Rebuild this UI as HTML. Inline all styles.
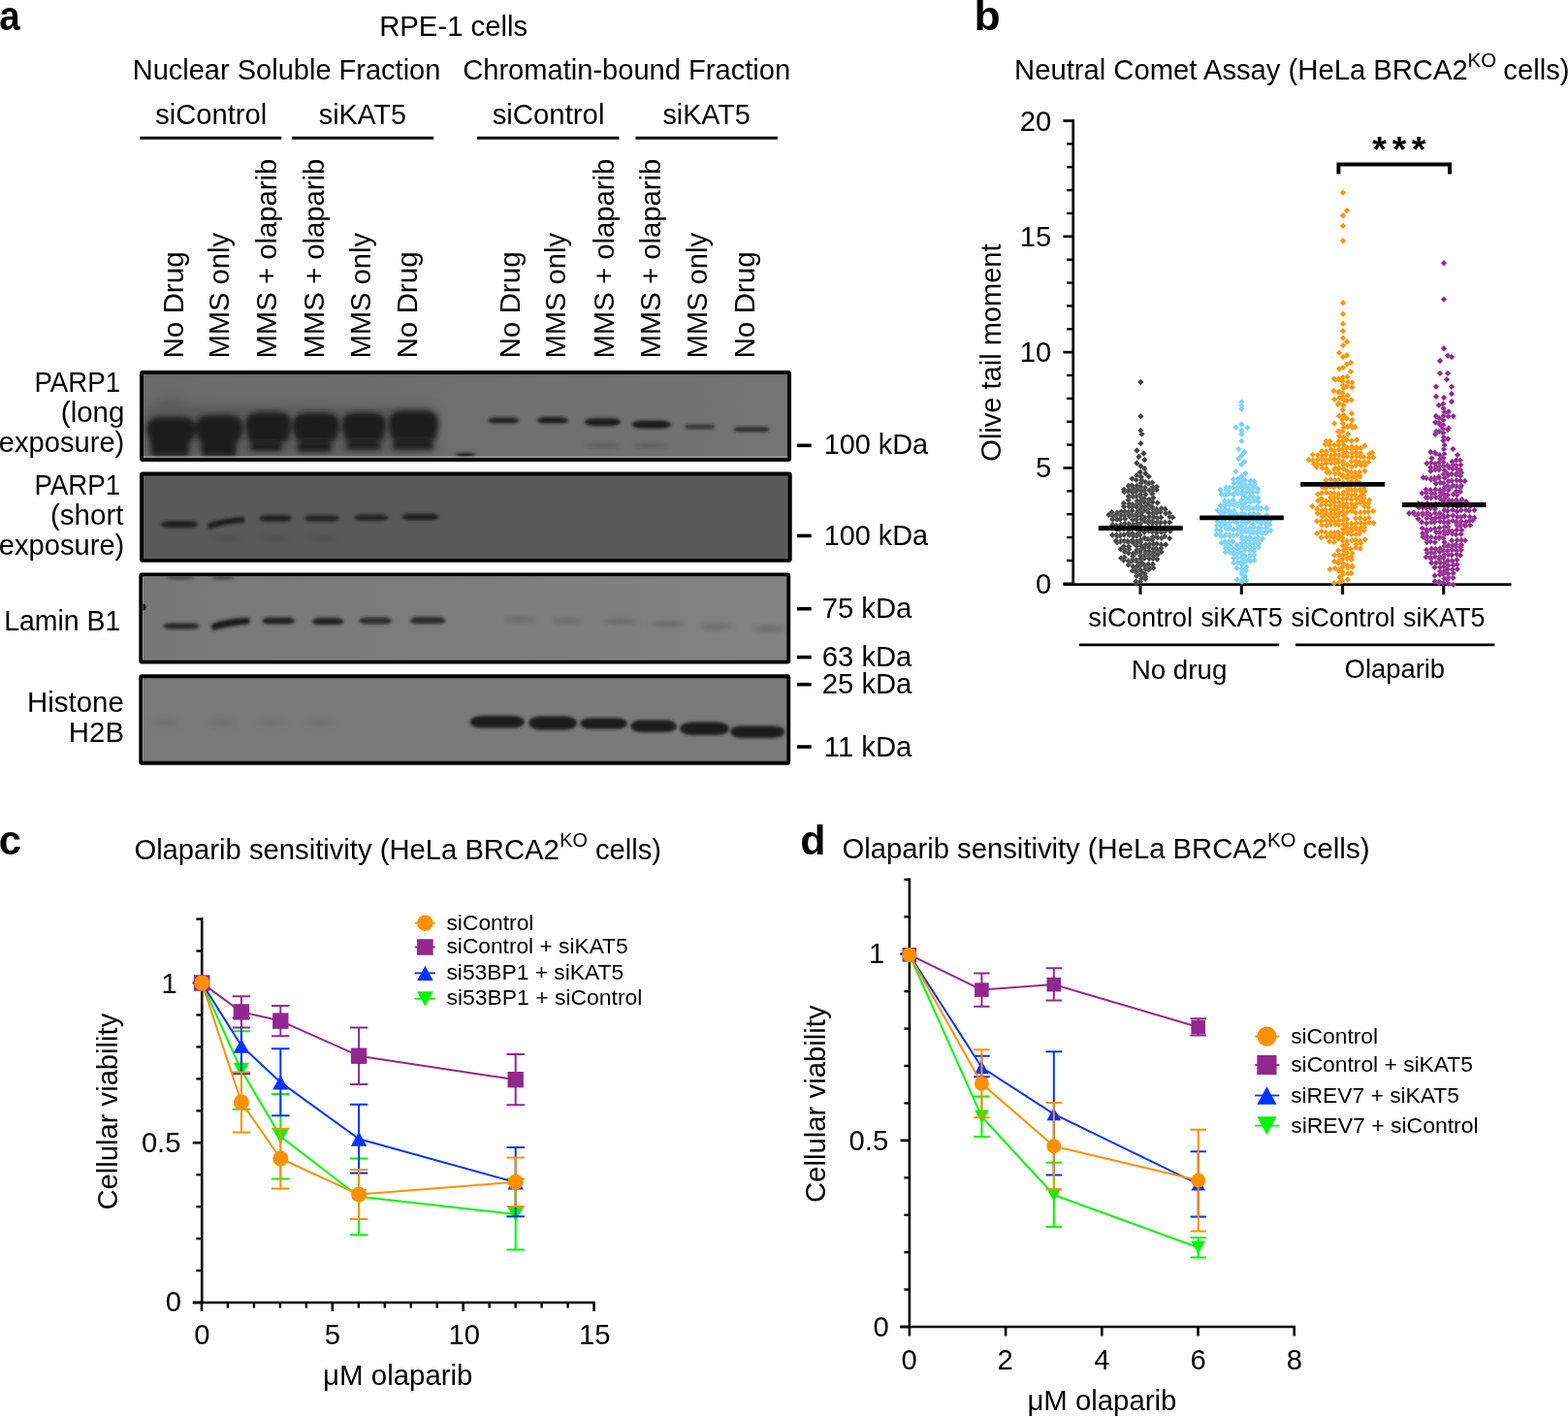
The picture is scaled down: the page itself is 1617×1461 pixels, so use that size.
<!DOCTYPE html>
<html><head><meta charset="utf-8"><title>Figure</title>
<style>html,body{margin:0;padding:0;background:#fff;overflow:hidden;}svg{display:block;}</style></head>
<body>
<svg width="1617" height="1461" viewBox="0 0 1617 1461" font-family="'Liberation Sans', Arial, Helvetica, sans-serif">
<rect width="1617" height="1461" fill="#fff"/>
<text x="-0.85" y="30.60" font-size="42" font-weight="bold" fill="#000" textLength="21.41" lengthAdjust="spacingAndGlyphs">a</text>
<text x="391.18" y="37.20" font-size="29.2" fill="#000" textLength="153.00" lengthAdjust="spacingAndGlyphs">RPE-1 cells</text>
<text x="136.71" y="81.80" font-size="29.2" fill="#000" textLength="317.68" lengthAdjust="spacingAndGlyphs">Nuclear Soluble Fraction</text>
<text x="477.25" y="81.80" font-size="29.2" fill="#000" textLength="337.80" lengthAdjust="spacingAndGlyphs">Chromatin-bound Fraction</text>
<text x="160.20" y="127.70" font-size="29.2" fill="#000" textLength="115.02" lengthAdjust="spacingAndGlyphs">siControl</text>
<text x="328.81" y="127.70" font-size="29.2" fill="#000" textLength="90.28" lengthAdjust="spacingAndGlyphs">siKAT5</text>
<text x="507.69" y="127.70" font-size="29.2" fill="#000" textLength="115.74" lengthAdjust="spacingAndGlyphs">siControl</text>
<text x="683.51" y="127.70" font-size="29.2" fill="#000" textLength="90.28" lengthAdjust="spacingAndGlyphs">siKAT5</text>
<line x1="144.30" y1="142.20" x2="290.20" y2="142.20" stroke="#000" stroke-width="3" stroke-linecap="butt"/>
<line x1="301.00" y1="142.20" x2="447.10" y2="142.20" stroke="#000" stroke-width="3" stroke-linecap="butt"/>
<line x1="492.00" y1="142.20" x2="638.40" y2="142.20" stroke="#000" stroke-width="3" stroke-linecap="butt"/>
<line x1="655.50" y1="142.20" x2="801.80" y2="142.20" stroke="#000" stroke-width="3" stroke-linecap="butt"/>
<text x="189.00" y="369.54" font-size="29.2" textLength="110.13" lengthAdjust="spacingAndGlyphs" transform="rotate(-90 189.00 369.54)">No Drug</text>
<text x="236.30" y="369.50" font-size="29.2" textLength="129.59" lengthAdjust="spacingAndGlyphs" transform="rotate(-90 236.30 369.50)">MMS only</text>
<text x="285.40" y="369.52" font-size="29.2" textLength="205.92" lengthAdjust="spacingAndGlyphs" transform="rotate(-90 285.40 369.52)">MMS + olaparib</text>
<text x="334.20" y="369.52" font-size="29.2" textLength="205.92" lengthAdjust="spacingAndGlyphs" transform="rotate(-90 334.20 369.52)">MMS + olaparib</text>
<text x="382.00" y="369.50" font-size="29.2" textLength="129.59" lengthAdjust="spacingAndGlyphs" transform="rotate(-90 382.00 369.50)">MMS only</text>
<text x="430.50" y="369.54" font-size="29.2" textLength="110.13" lengthAdjust="spacingAndGlyphs" transform="rotate(-90 430.50 369.54)">No Drug</text>
<text x="535.80" y="369.54" font-size="29.2" textLength="110.13" lengthAdjust="spacingAndGlyphs" transform="rotate(-90 535.80 369.54)">No Drug</text>
<text x="582.90" y="369.50" font-size="29.2" textLength="129.59" lengthAdjust="spacingAndGlyphs" transform="rotate(-90 582.90 369.50)">MMS only</text>
<text x="632.70" y="369.52" font-size="29.2" textLength="205.92" lengthAdjust="spacingAndGlyphs" transform="rotate(-90 632.70 369.52)">MMS + olaparib</text>
<text x="680.90" y="369.52" font-size="29.2" textLength="205.92" lengthAdjust="spacingAndGlyphs" transform="rotate(-90 680.90 369.52)">MMS + olaparib</text>
<text x="729.10" y="369.50" font-size="29.2" textLength="129.59" lengthAdjust="spacingAndGlyphs" transform="rotate(-90 729.10 369.50)">MMS only</text>
<text x="777.70" y="369.54" font-size="29.2" textLength="110.13" lengthAdjust="spacingAndGlyphs" transform="rotate(-90 777.70 369.54)">No Drug</text>
<text x="35.41" y="403.70" font-size="29.2" fill="#000" textLength="88.81" lengthAdjust="spacingAndGlyphs">PARP1</text>
<text x="62.86" y="434.70" font-size="29.2" fill="#000" textLength="65.52" lengthAdjust="spacingAndGlyphs">(long</text>
<text x="-1.24" y="465.80" font-size="29.2" fill="#000" textLength="129.54" lengthAdjust="spacingAndGlyphs">exposure)</text>
<text x="35.41" y="509.70" font-size="29.2" fill="#000" textLength="88.81" lengthAdjust="spacingAndGlyphs">PARP1</text>
<text x="52.06" y="541.00" font-size="29.2" fill="#000" textLength="75.40" lengthAdjust="spacingAndGlyphs">(short</text>
<text x="-1.24" y="571.90" font-size="29.2" fill="#000" textLength="129.54" lengthAdjust="spacingAndGlyphs">exposure)</text>
<text x="4.15" y="650.10" font-size="29.2" fill="#000" textLength="120.16" lengthAdjust="spacingAndGlyphs">Lamin B1</text>
<text x="28.07" y="733.70" font-size="29.2" fill="#000" textLength="99.70" lengthAdjust="spacingAndGlyphs">Histone</text>
<text x="70.88" y="765.00" font-size="29.2" fill="#000" textLength="57.18" lengthAdjust="spacingAndGlyphs">H2B</text>
<line x1="821.90" y1="459.30" x2="836.70" y2="459.30" stroke="#000" stroke-width="3.6" stroke-linecap="butt"/>
<text x="849.64" y="468.40" font-size="29.2" fill="#000" textLength="107.43" lengthAdjust="spacingAndGlyphs">100 kDa</text>
<line x1="821.90" y1="552.40" x2="836.70" y2="552.40" stroke="#000" stroke-width="3.6" stroke-linecap="butt"/>
<text x="849.64" y="561.90" font-size="29.2" fill="#000" textLength="107.43" lengthAdjust="spacingAndGlyphs">100 kDa</text>
<line x1="821.90" y1="627.70" x2="836.70" y2="627.70" stroke="#000" stroke-width="3.6" stroke-linecap="butt"/>
<text x="847.77" y="636.50" font-size="29.2" fill="#000" textLength="92.56" lengthAdjust="spacingAndGlyphs">75 kDa</text>
<line x1="821.90" y1="677.60" x2="836.70" y2="677.60" stroke="#000" stroke-width="3.6" stroke-linecap="butt"/>
<text x="847.84" y="686.50" font-size="29.2" fill="#000" textLength="92.49" lengthAdjust="spacingAndGlyphs">63 kDa</text>
<line x1="821.90" y1="705.70" x2="836.70" y2="705.70" stroke="#000" stroke-width="3.6" stroke-linecap="butt"/>
<text x="847.84" y="714.60" font-size="29.2" fill="#000" textLength="92.49" lengthAdjust="spacingAndGlyphs">25 kDa</text>
<line x1="821.90" y1="770.00" x2="836.70" y2="770.00" stroke="#000" stroke-width="3.6" stroke-linecap="butt"/>
<text x="849.81" y="779.60" font-size="29.2" fill="#000" textLength="90.55" lengthAdjust="spacingAndGlyphs">11 kDa</text>
<defs><filter id="b1" x="-20%" y="-50%" width="140%" height="200%"><feGaussianBlur stdDeviation="1.6"/></filter><filter id="b2" x="-20%" y="-80%" width="140%" height="260%"><feGaussianBlur stdDeviation="2.4"/></filter><filter id="b3" x="-30%" y="-100%" width="160%" height="300%"><feGaussianBlur stdDeviation="4"/></filter><linearGradient id="g1" x1="0" y1="0" x2="1" y2="0"><stop offset="0" stop-color="#6a6a6a"/><stop offset="0.45" stop-color="#6e6e6e"/><stop offset="1" stop-color="#747474"/></linearGradient><linearGradient id="g3" x1="0" y1="0" x2="1" y2="0"><stop offset="0" stop-color="#777777"/><stop offset="0.5" stop-color="#7d7d7d"/><stop offset="1" stop-color="#828282"/></linearGradient><filter id="b4" x="-20%" y="-50%" width="140%" height="200%"><feGaussianBlur stdDeviation="2.5"/></filter><clipPath id="cp1"><rect x="148" y="386" width="664" height="86"/></clipPath><clipPath id="cp2"><rect x="148" y="490" width="665" height="86"/></clipPath><clipPath id="cp3"><rect x="147.5" y="594.5" width="664" height="86"/></clipPath><clipPath id="cp4"><rect x="147.5" y="699" width="664" height="86"/></clipPath></defs>
<g clip-path="url(#cp1)">
<rect x="148.00" y="386.00" width="664.00" height="86.00" fill="url(#g1)"/>
<g filter="url(#b3)" opacity="0.5" fill="#4a4a4a">
<rect x="150" y="418" width="302" height="50" rx="10"/>
<ellipse cx="176" cy="416" rx="16" ry="7" opacity="0.6"/>
</g>
<g filter="url(#b4)" fill="#1c1c1c">
<path d="M155.7 455.0 C151.7 447.0 150.5 444.9 151.7 438.9 C152.7 431.9 159.7 429.9 165.7 429.9 L187.6 429.9 C193.6 429.9 200.6 431.9 201.6 438.9 C202.8 444.9 201.6 447.0 197.6 455.0 Z"/>
<rect x="155.4" y="449.0" width="39.6" height="21.5" rx="4"/>
<path d="M206.2 455.0 C202.2 447.0 201.0 442.9 202.2 436.9 C203.2 429.9 210.2 427.9 216.2 427.9 L236.1 427.9 C242.1 427.9 249.1 429.9 250.1 436.9 C251.3 442.9 250.1 447.0 246.1 455.0 Z"/>
<rect x="207.8" y="449.0" width="35.7" height="21.5" rx="4"/>
<path d="M257.6 455.8 C253.6 447.8 252.4 440.0 253.6 434.0 C254.6 427.0 261.6 425.0 267.6 425.0 L285.6 425.0 C291.6 425.0 298.6 427.0 299.6 434.0 C300.8 440.0 299.6 447.8 295.6 455.8 Z"/>
<rect x="257.8" y="457.6" width="33.6" height="7.3" rx="4"/>
<rect x="259.8" y="453.8" width="29.6" height="4.5" fill="#262626"/>
<path d="M306.5 454.5 C302.5 446.5 301.3 440.8 302.5 434.8 C303.5 427.8 310.5 425.8 316.5 425.8 L335.4 425.8 C341.4 425.8 348.4 427.8 349.4 434.8 C350.6 440.8 349.4 446.5 345.4 454.5 Z"/>
<rect x="306.8" y="456.3" width="35.2" height="9.8" rx="4"/>
<rect x="308.8" y="452.5" width="31.2" height="4.5" fill="#262626"/>
<path d="M357.2 454.5 C353.2 446.5 352.0 440.2 353.2 434.2 C354.2 427.2 361.2 425.2 367.2 425.2 L383.6 425.2 C389.6 425.2 396.6 427.2 397.6 434.2 C398.8 440.2 397.6 446.5 393.6 454.5 Z"/>
<rect x="357.0" y="456.3" width="36.0" height="7.2" rx="4"/>
<rect x="359.0" y="452.5" width="32.0" height="4.5" fill="#262626"/>
<path d="M405.4 454.0 C401.4 446.0 400.2 438.4 401.4 432.4 C402.4 425.4 409.4 423.4 415.4 423.4 L437.4 423.4 C443.4 423.4 450.4 425.4 451.4 432.4 C452.6 438.4 451.4 446.0 447.4 454.0 Z"/>
<rect x="405.0" y="455.8" width="42.0" height="7.7" rx="4"/>
<rect x="407.0" y="452.0" width="38.0" height="4.5" fill="#262626"/>
</g>
<g filter="url(#b1)" fill="#1e1e1e">
<rect x="503.5" y="430.4" width="31.5" height="6.0" rx="7.2" ry="3.0" opacity="0.95"/>
<rect x="554.3" y="430.1" width="31.6" height="6.5" rx="7.8" ry="3.2" opacity="1"/>
<rect x="603.0" y="431.2" width="37.0" height="8.0" rx="9.6" ry="4.0" opacity="1"/>
<rect x="651.7" y="433.6" width="40.3" height="8.5" rx="10.2" ry="4.2" opacity="1"/>
<rect x="705.8" y="437.8" width="31.6" height="4.5" rx="5.4" ry="2.2" opacity="0.8"/>
<rect x="756.7" y="440.2" width="37.0" height="5.0" rx="6.0" ry="2.5" opacity="0.85"/>
</g>
<g filter="url(#b2)" fill="#3a3a3a" opacity="0.4">
<ellipse cx="622.0" cy="459.5" rx="18.0" ry="2.5"/>
<ellipse cx="671.0" cy="459.5" rx="19.0" ry="2.5"/>
</g>
<ellipse cx="480" cy="469" rx="10" ry="2" fill="#1a1a1a" filter="url(#b1)"/>
<line x1="148.00" y1="471.20" x2="812.00" y2="471.20" stroke="#bdbdbd" stroke-width="1" stroke-linecap="butt"/>
</g>
<rect x="146" y="384" width="668" height="90" fill="none" stroke="#000" stroke-width="4" rx="1"/>
<g clip-path="url(#cp2)">
<rect x="148.00" y="490.00" width="665.00" height="86.00" fill="#595959"/>
<g filter="url(#b1)" fill="#1c1c1c">
<rect x="166" y="537.3" width="37.5" height="6.8" rx="8" ry="3.4"/>
<path d="M214.6 539.8 Q233 533.5 252 533 L252 538.8 Q233 540 214.6 545.5 Z"/>
<rect x="267.2" y="531.2" width="33.6" height="6.4" rx="7" ry="3.2" opacity="0.95"/>
<rect x="314.5" y="531.2" width="35.8" height="6.4" rx="7" ry="3.2" opacity="0.9"/>
<rect x="365.0" y="530.5" width="35.7" height="6.4" rx="7" ry="3.2" opacity="0.9"/>
<rect x="414.4" y="529.8" width="37.8" height="6.4" rx="7" ry="3.2" opacity="1"/>
</g>
<g filter="url(#b2)" fill="#3a3a3a" opacity="0.25">
<ellipse cx="233" cy="555" rx="14" ry="2.5"/>
<ellipse cx="284" cy="555" rx="14" ry="2.5"/>
<ellipse cx="333" cy="555" rx="14" ry="2.5"/>
</g>
<line x1="148.00" y1="575.60" x2="813.00" y2="575.60" stroke="#8a8a8a" stroke-width="1" stroke-linecap="butt"/>
</g>
<rect x="146" y="488.4" width="668.7" height="89.4" fill="none" stroke="#000" stroke-width="4" rx="1"/>
<g clip-path="url(#cp3)">
<rect x="147.50" y="594.50" width="664.00" height="86.00" fill="url(#g3)"/>
<g filter="url(#b1)" fill="#1e1e1e">
<rect x="168.4" y="642.4" width="36.8" height="6.4" rx="8" ry="3.2" opacity="0.9"/>
<path d="M219 643 Q236 637 256.5 636.8 Q259 640 256.5 643.5 Q238 645 219 650 Q217 646.5 219 643 Z"/>
<rect x="270.4" y="636.4" width="33.6" height="7.2" rx="8" ry="3.6" opacity="0.95"/>
<rect x="321.9" y="637.1" width="32.6" height="7.2" rx="8" ry="3.6" opacity="0.95"/>
<rect x="370.2" y="636.4" width="33.7" height="7.2" rx="8" ry="3.6" opacity="0.85"/>
<rect x="422.8" y="636.1" width="36.8" height="7.2" rx="8" ry="3.6" opacity="0.85"/>
</g>
<g filter="url(#b2)" fill="#505050" opacity="0.5">
<ellipse cx="536.0" cy="639.0" rx="16.2" ry="2.6"/>
<ellipse cx="584.2" cy="640.0" rx="15.7" ry="2.6"/>
<ellipse cx="639.9" cy="641.0" rx="18.4" ry="2.6"/>
<ellipse cx="688.0" cy="643.0" rx="19.0" ry="2.6"/>
<ellipse cx="738.9" cy="646.0" rx="16.9" ry="2.6"/>
<ellipse cx="793.6" cy="648.0" rx="16.2" ry="2.6"/>
</g>
<ellipse cx="148" cy="626" rx="2.5" ry="3.5" fill="#111"/>
<g filter="url(#b1)" fill="#333" opacity="0.7">
<ellipse cx="186" cy="595.5" rx="15" ry="2"/>
<ellipse cx="230" cy="595.5" rx="12" ry="2"/>
</g>
<line x1="147.50" y1="680.40" x2="812.00" y2="680.40" stroke="#939393" stroke-width="1" stroke-linecap="butt"/>
</g>
<rect x="145.3" y="592.6" width="667.9" height="90" fill="none" stroke="#000" stroke-width="4" rx="1"/>
<g clip-path="url(#cp4)">
<rect x="147.50" y="699.00" width="664.00" height="86.00" fill="#7a7a7a"/>
<g filter="url(#b1)" fill="#1c1c1c">
<rect x="484.7" y="738.1" width="56.1" height="12.5" rx="11.2" ry="6.2"/>
<rect x="545.3" y="738.5" width="49.7" height="14.0" rx="12.6" ry="7.0"/>
<rect x="598.3" y="740.2" width="48.6" height="11.5" rx="10.3" ry="5.8"/>
<rect x="650.2" y="742.5" width="47.6" height="12.5" rx="11.2" ry="6.2"/>
<rect x="701.1" y="744.6" width="50.8" height="13.5" rx="12.2" ry="6.8"/>
<rect x="753.0" y="748.4" width="56.2" height="12.5" rx="11.2" ry="6.2"/>
</g>
<g filter="url(#b3)" fill="#5a5a5a" opacity="0.35">
<ellipse cx="170" cy="745" rx="14" ry="3"/>
<ellipse cx="230" cy="745" rx="14" ry="3"/>
<ellipse cx="280" cy="745" rx="14" ry="3"/>
<ellipse cx="330" cy="745" rx="14" ry="3"/>
</g>
</g>
<rect x="145.3" y="697.3" width="667.9" height="89.4" fill="none" stroke="#000" stroke-width="4" rx="1"/>
<text x="1004.60" y="30.70" font-size="42" font-weight="bold" fill="#000" textLength="27.22" lengthAdjust="spacingAndGlyphs">b</text>
<text x="1046.09" y="81.50" font-size="29.2" fill="#000" textLength="467.62" lengthAdjust="spacingAndGlyphs">Neutral Comet Assay (HeLa BRCA2</text>
<text x="1513.61" y="69.40" font-size="19.5" fill="#000" textLength="29.56" lengthAdjust="spacingAndGlyphs">KO</text>
<text x="1550.36" y="81.60" font-size="29.2" fill="#000">cells)</text>
<line x1="1106.70" y1="123.00" x2="1106.70" y2="604.10" stroke="#000" stroke-width="2.7" stroke-linecap="butt"/>
<line x1="1096.40" y1="601.80" x2="1106.70" y2="601.80" stroke="#000" stroke-width="2.7" stroke-linecap="butt"/>
<line x1="1100.00" y1="577.93" x2="1106.70" y2="577.93" stroke="#000" stroke-width="2.4" stroke-linecap="butt"/>
<line x1="1100.00" y1="554.07" x2="1106.70" y2="554.07" stroke="#000" stroke-width="2.4" stroke-linecap="butt"/>
<line x1="1100.00" y1="530.20" x2="1106.70" y2="530.20" stroke="#000" stroke-width="2.4" stroke-linecap="butt"/>
<line x1="1100.00" y1="506.34" x2="1106.70" y2="506.34" stroke="#000" stroke-width="2.4" stroke-linecap="butt"/>
<line x1="1096.40" y1="482.47" x2="1106.70" y2="482.47" stroke="#000" stroke-width="2.7" stroke-linecap="butt"/>
<line x1="1100.00" y1="458.61" x2="1106.70" y2="458.61" stroke="#000" stroke-width="2.4" stroke-linecap="butt"/>
<line x1="1100.00" y1="434.75" x2="1106.70" y2="434.75" stroke="#000" stroke-width="2.4" stroke-linecap="butt"/>
<line x1="1100.00" y1="410.88" x2="1106.70" y2="410.88" stroke="#000" stroke-width="2.4" stroke-linecap="butt"/>
<line x1="1100.00" y1="387.01" x2="1106.70" y2="387.01" stroke="#000" stroke-width="2.4" stroke-linecap="butt"/>
<line x1="1096.40" y1="363.15" x2="1106.70" y2="363.15" stroke="#000" stroke-width="2.7" stroke-linecap="butt"/>
<line x1="1100.00" y1="339.28" x2="1106.70" y2="339.28" stroke="#000" stroke-width="2.4" stroke-linecap="butt"/>
<line x1="1100.00" y1="315.42" x2="1106.70" y2="315.42" stroke="#000" stroke-width="2.4" stroke-linecap="butt"/>
<line x1="1100.00" y1="291.55" x2="1106.70" y2="291.55" stroke="#000" stroke-width="2.4" stroke-linecap="butt"/>
<line x1="1100.00" y1="267.69" x2="1106.70" y2="267.69" stroke="#000" stroke-width="2.4" stroke-linecap="butt"/>
<line x1="1096.40" y1="243.82" x2="1106.70" y2="243.82" stroke="#000" stroke-width="2.7" stroke-linecap="butt"/>
<line x1="1100.00" y1="219.96" x2="1106.70" y2="219.96" stroke="#000" stroke-width="2.4" stroke-linecap="butt"/>
<line x1="1100.00" y1="196.09" x2="1106.70" y2="196.09" stroke="#000" stroke-width="2.4" stroke-linecap="butt"/>
<line x1="1100.00" y1="172.23" x2="1106.70" y2="172.23" stroke="#000" stroke-width="2.4" stroke-linecap="butt"/>
<line x1="1100.00" y1="148.37" x2="1106.70" y2="148.37" stroke="#000" stroke-width="2.4" stroke-linecap="butt"/>
<line x1="1096.40" y1="124.50" x2="1106.70" y2="124.50" stroke="#000" stroke-width="2.7" stroke-linecap="butt"/>
<text x="1051.68" y="134.50" font-size="29.2" fill="#000">20</text>
<text x="1051.76" y="253.82" font-size="29.2" fill="#000">15</text>
<text x="1051.68" y="373.15" font-size="29.2" fill="#000">10</text>
<text x="1067.96" y="492.47" font-size="29.2" fill="#000">5</text>
<text x="1067.89" y="611.80" font-size="29.2" fill="#000">0</text>
<text x="1031.80" y="475.68" font-size="29.2" textLength="224.19" lengthAdjust="spacingAndGlyphs" transform="rotate(-90 1031.80 475.68)">Olive tail moment</text>
<line x1="1096.60" y1="602.70" x2="1558.60" y2="602.70" stroke="#000" stroke-width="2.8" stroke-linecap="butt"/>
<line x1="1176.00" y1="602.00" x2="1176.00" y2="612.90" stroke="#000" stroke-width="3" stroke-linecap="butt"/>
<line x1="1280.30" y1="602.00" x2="1280.30" y2="612.90" stroke="#000" stroke-width="3" stroke-linecap="butt"/>
<line x1="1384.60" y1="602.00" x2="1384.60" y2="612.90" stroke="#000" stroke-width="3" stroke-linecap="butt"/>
<line x1="1488.70" y1="602.00" x2="1488.70" y2="612.90" stroke="#000" stroke-width="3" stroke-linecap="butt"/>
<text x="1122.35" y="646.30" font-size="27.6" fill="#000" textLength="107.75" lengthAdjust="spacingAndGlyphs">siControl</text>
<text x="1238.16" y="646.30" font-size="27.6" fill="#000" textLength="84.55" lengthAdjust="spacingAndGlyphs">siKAT5</text>
<text x="1331.55" y="646.30" font-size="27.6" fill="#000" textLength="107.34" lengthAdjust="spacingAndGlyphs">siControl</text>
<text x="1446.96" y="646.30" font-size="27.6" fill="#000" textLength="84.55" lengthAdjust="spacingAndGlyphs">siKAT5</text>
<line x1="1112.90" y1="664.80" x2="1318.90" y2="664.80" stroke="#000" stroke-width="2.7" stroke-linecap="butt"/>
<line x1="1336.00" y1="664.80" x2="1541.40" y2="664.80" stroke="#000" stroke-width="2.7" stroke-linecap="butt"/>
<text x="1166.71" y="699.50" font-size="27.6" fill="#000" textLength="98.63" lengthAdjust="spacingAndGlyphs">No drug</text>
<text x="1386.60" y="699.10" font-size="27.6" fill="#000" textLength="103.49" lengthAdjust="spacingAndGlyphs">Olaparib</text>
<text x="1415.19" y="166.51" font-size="37.5" font-weight="bold">*</text>
<text x="1435.79" y="166.51" font-size="37.5" font-weight="bold">*</text>
<text x="1455.79" y="166.51" font-size="37.5" font-weight="bold">*</text>
<path d="M1380.4 179.6 V169.6 H1495 V179.6" fill="none" stroke="#000" stroke-width="4"/>
<path d="M1176.4 390.8l3.2 3.2l-3.2 3.2l-3.2-3.2zM1176.4 426.1l3.2 3.2l-3.2 3.2l-3.2-3.2zM1176.4 440.8l3.2 3.2l-3.2 3.2l-3.2-3.2zM1177.4 444.3l3.2 3.2l-3.2 3.2l-3.2-3.2zM1176.4 454.1l3.2 3.2l-3.2 3.2l-3.2-3.2zM1172.4 461.3l3.2 3.2l-3.2 3.2l-3.2-3.2zM1179.4 464.3l3.2 3.2l-3.2 3.2l-3.2-3.2zM1174.4 467.8l3.2 3.2l-3.2 3.2l-3.2-3.2zM1180.4 470.8l3.2 3.2l-3.2 3.2l-3.2-3.2zM1172.4 474.3l3.2 3.2l-3.2 3.2l-3.2-3.2zM1176.4 477.3l3.2 3.2l-3.2 3.2l-3.2-3.2zM1180.4 479.8l3.2 3.2l-3.2 3.2l-3.2-3.2zM1175.7 483.8l3.2 3.2l-3.2 3.2l-3.2-3.2zM1172.0 487.0l3.2 3.2l-3.2 3.2l-3.2-3.2zM1181.3 485.1l3.2 3.2l-3.2 3.2l-3.2-3.2zM1176.8 488.6l3.2 3.2l-3.2 3.2l-3.2-3.2zM1171.4 491.2l3.2 3.2l-3.2 3.2l-3.2-3.2zM1167.5 490.4l3.2 3.2l-3.2 3.2l-3.2-3.2zM1184.7 488.2l3.2 3.2l-3.2 3.2l-3.2-3.2zM1177.2 491.7l3.2 3.2l-3.2 3.2l-3.2-3.2zM1181.4 494.0l3.2 3.2l-3.2 3.2l-3.2-3.2zM1171.8 491.7l3.2 3.2l-3.2 3.2l-3.2-3.2zM1184.8 494.7l3.2 3.2l-3.2 3.2l-3.2-3.2zM1176.6 494.9l3.2 3.2l-3.2 3.2l-3.2-3.2zM1172.4 497.7l3.2 3.2l-3.2 3.2l-3.2-3.2zM1167.4 497.5l3.2 3.2l-3.2 3.2l-3.2-3.2zM1184.6 495.4l3.2 3.2l-3.2 3.2l-3.2-3.2zM1163.8 497.8l3.2 3.2l-3.2 3.2l-3.2-3.2zM1188.2 494.6l3.2 3.2l-3.2 3.2l-3.2-3.2zM1176.4 498.6l3.2 3.2l-3.2 3.2l-3.2-3.2zM1172.8 501.3l3.2 3.2l-3.2 3.2l-3.2-3.2zM1180.7 499.7l3.2 3.2l-3.2 3.2l-3.2-3.2zM1168.8 500.7l3.2 3.2l-3.2 3.2l-3.2-3.2zM1164.2 501.9l3.2 3.2l-3.2 3.2l-3.2-3.2zM1188.9 499.1l3.2 3.2l-3.2 3.2l-3.2-3.2zM1159.1 501.5l3.2 3.2l-3.2 3.2l-3.2-3.2zM1192.9 498.8l3.2 3.2l-3.2 3.2l-3.2-3.2zM1176.9 502.8l3.2 3.2l-3.2 3.2l-3.2-3.2zM1171.5 503.9l3.2 3.2l-3.2 3.2l-3.2-3.2zM1179.8 502.7l3.2 3.2l-3.2 3.2l-3.2-3.2zM1167.9 504.5l3.2 3.2l-3.2 3.2l-3.2-3.2zM1185.3 502.3l3.2 3.2l-3.2 3.2l-3.2-3.2zM1163.4 503.6l3.2 3.2l-3.2 3.2l-3.2-3.2zM1188.6 502.5l3.2 3.2l-3.2 3.2l-3.2-3.2zM1159.3 503.8l3.2 3.2l-3.2 3.2l-3.2-3.2zM1192.8 501.7l3.2 3.2l-3.2 3.2l-3.2-3.2zM1175.9 506.9l3.2 3.2l-3.2 3.2l-3.2-3.2zM1172.1 508.2l3.2 3.2l-3.2 3.2l-3.2-3.2zM1181.5 506.7l3.2 3.2l-3.2 3.2l-3.2-3.2zM1168.0 508.2l3.2 3.2l-3.2 3.2l-3.2-3.2zM1163.7 508.6l3.2 3.2l-3.2 3.2l-3.2-3.2zM1188.2 506.0l3.2 3.2l-3.2 3.2l-3.2-3.2zM1176.2 508.9l3.2 3.2l-3.2 3.2l-3.2-3.2zM1179.8 511.0l3.2 3.2l-3.2 3.2l-3.2-3.2zM1171.6 508.6l3.2 3.2l-3.2 3.2l-3.2-3.2zM1184.8 511.9l3.2 3.2l-3.2 3.2l-3.2-3.2zM1168.3 508.7l3.2 3.2l-3.2 3.2l-3.2-3.2zM1189.3 510.0l3.2 3.2l-3.2 3.2l-3.2-3.2zM1164.5 508.7l3.2 3.2l-3.2 3.2l-3.2-3.2zM1176.5 512.9l3.2 3.2l-3.2 3.2l-3.2-3.2zM1179.9 514.3l3.2 3.2l-3.2 3.2l-3.2-3.2zM1172.8 513.4l3.2 3.2l-3.2 3.2l-3.2-3.2zM1184.0 515.2l3.2 3.2l-3.2 3.2l-3.2-3.2zM1188.6 514.5l3.2 3.2l-3.2 3.2l-3.2-3.2zM1163.5 512.4l3.2 3.2l-3.2 3.2l-3.2-3.2zM1193.7 515.2l3.2 3.2l-3.2 3.2l-3.2-3.2zM1175.6 515.8l3.2 3.2l-3.2 3.2l-3.2-3.2zM1181.2 519.3l3.2 3.2l-3.2 3.2l-3.2-3.2zM1172.0 516.8l3.2 3.2l-3.2 3.2l-3.2-3.2zM1184.4 517.4l3.2 3.2l-3.2 3.2l-3.2-3.2zM1167.9 517.1l3.2 3.2l-3.2 3.2l-3.2-3.2zM1188.1 519.3l3.2 3.2l-3.2 3.2l-3.2-3.2zM1164.5 516.3l3.2 3.2l-3.2 3.2l-3.2-3.2zM1158.9 515.8l3.2 3.2l-3.2 3.2l-3.2-3.2zM1177.2 519.0l3.2 3.2l-3.2 3.2l-3.2-3.2zM1180.7 522.0l3.2 3.2l-3.2 3.2l-3.2-3.2zM1171.9 519.3l3.2 3.2l-3.2 3.2l-3.2-3.2zM1167.7 519.4l3.2 3.2l-3.2 3.2l-3.2-3.2zM1188.7 520.7l3.2 3.2l-3.2 3.2l-3.2-3.2zM1164.3 519.2l3.2 3.2l-3.2 3.2l-3.2-3.2zM1193.1 522.5l3.2 3.2l-3.2 3.2l-3.2-3.2zM1159.1 519.4l3.2 3.2l-3.2 3.2l-3.2-3.2zM1197.9 521.2l3.2 3.2l-3.2 3.2l-3.2-3.2zM1176.1 521.8l3.2 3.2l-3.2 3.2l-3.2-3.2zM1172.9 524.8l3.2 3.2l-3.2 3.2l-3.2-3.2zM1180.7 522.8l3.2 3.2l-3.2 3.2l-3.2-3.2zM1167.5 523.4l3.2 3.2l-3.2 3.2l-3.2-3.2zM1184.0 521.8l3.2 3.2l-3.2 3.2l-3.2-3.2zM1163.8 524.7l3.2 3.2l-3.2 3.2l-3.2-3.2zM1189.5 522.9l3.2 3.2l-3.2 3.2l-3.2-3.2zM1160.1 524.5l3.2 3.2l-3.2 3.2l-3.2-3.2zM1192.5 521.8l3.2 3.2l-3.2 3.2l-3.2-3.2zM1156.1 524.6l3.2 3.2l-3.2 3.2l-3.2-3.2zM1197.1 521.3l3.2 3.2l-3.2 3.2l-3.2-3.2zM1151.8 525.5l3.2 3.2l-3.2 3.2l-3.2-3.2zM1201.5 521.8l3.2 3.2l-3.2 3.2l-3.2-3.2zM1146.6 525.0l3.2 3.2l-3.2 3.2l-3.2-3.2zM1177.0 525.5l3.2 3.2l-3.2 3.2l-3.2-3.2zM1171.8 527.0l3.2 3.2l-3.2 3.2l-3.2-3.2zM1167.2 527.4l3.2 3.2l-3.2 3.2l-3.2-3.2zM1184.4 525.3l3.2 3.2l-3.2 3.2l-3.2-3.2zM1164.0 527.1l3.2 3.2l-3.2 3.2l-3.2-3.2zM1189.0 526.1l3.2 3.2l-3.2 3.2l-3.2-3.2zM1160.0 527.6l3.2 3.2l-3.2 3.2l-3.2-3.2zM1192.7 525.4l3.2 3.2l-3.2 3.2l-3.2-3.2zM1156.2 528.1l3.2 3.2l-3.2 3.2l-3.2-3.2zM1196.6 524.6l3.2 3.2l-3.2 3.2l-3.2-3.2zM1151.7 527.3l3.2 3.2l-3.2 3.2l-3.2-3.2zM1202.2 526.0l3.2 3.2l-3.2 3.2l-3.2-3.2zM1147.2 528.0l3.2 3.2l-3.2 3.2l-3.2-3.2zM1205.9 525.7l3.2 3.2l-3.2 3.2l-3.2-3.2zM1176.9 528.4l3.2 3.2l-3.2 3.2l-3.2-3.2zM1180.4 530.6l3.2 3.2l-3.2 3.2l-3.2-3.2zM1172.2 529.3l3.2 3.2l-3.2 3.2l-3.2-3.2zM1185.2 529.5l3.2 3.2l-3.2 3.2l-3.2-3.2zM1168.2 528.7l3.2 3.2l-3.2 3.2l-3.2-3.2zM1189.6 530.0l3.2 3.2l-3.2 3.2l-3.2-3.2zM1164.5 528.8l3.2 3.2l-3.2 3.2l-3.2-3.2zM1193.4 530.9l3.2 3.2l-3.2 3.2l-3.2-3.2zM1159.7 528.8l3.2 3.2l-3.2 3.2l-3.2-3.2zM1197.2 530.3l3.2 3.2l-3.2 3.2l-3.2-3.2zM1155.5 528.0l3.2 3.2l-3.2 3.2l-3.2-3.2zM1150.6 528.4l3.2 3.2l-3.2 3.2l-3.2-3.2zM1206.3 529.8l3.2 3.2l-3.2 3.2l-3.2-3.2zM1147.6 529.2l3.2 3.2l-3.2 3.2l-3.2-3.2zM1209.3 530.2l3.2 3.2l-3.2 3.2l-3.2-3.2zM1143.4 527.6l3.2 3.2l-3.2 3.2l-3.2-3.2zM1177.2 532.1l3.2 3.2l-3.2 3.2l-3.2-3.2zM1180.6 534.3l3.2 3.2l-3.2 3.2l-3.2-3.2zM1171.9 532.6l3.2 3.2l-3.2 3.2l-3.2-3.2zM1184.7 533.6l3.2 3.2l-3.2 3.2l-3.2-3.2zM1168.3 532.9l3.2 3.2l-3.2 3.2l-3.2-3.2zM1188.5 534.3l3.2 3.2l-3.2 3.2l-3.2-3.2zM1193.8 535.0l3.2 3.2l-3.2 3.2l-3.2-3.2zM1160.2 531.7l3.2 3.2l-3.2 3.2l-3.2-3.2zM1197.0 535.4l3.2 3.2l-3.2 3.2l-3.2-3.2zM1155.1 532.2l3.2 3.2l-3.2 3.2l-3.2-3.2zM1151.9 532.3l3.2 3.2l-3.2 3.2l-3.2-3.2zM1206.2 535.2l3.2 3.2l-3.2 3.2l-3.2-3.2zM1147.3 532.3l3.2 3.2l-3.2 3.2l-3.2-3.2zM1176.2 536.7l3.2 3.2l-3.2 3.2l-3.2-3.2zM1172.7 536.8l3.2 3.2l-3.2 3.2l-3.2-3.2zM1168.3 538.0l3.2 3.2l-3.2 3.2l-3.2-3.2zM1184.2 535.5l3.2 3.2l-3.2 3.2l-3.2-3.2zM1164.0 536.9l3.2 3.2l-3.2 3.2l-3.2-3.2zM1188.4 536.3l3.2 3.2l-3.2 3.2l-3.2-3.2zM1159.8 536.8l3.2 3.2l-3.2 3.2l-3.2-3.2zM1192.7 536.1l3.2 3.2l-3.2 3.2l-3.2-3.2zM1156.1 537.6l3.2 3.2l-3.2 3.2l-3.2-3.2zM1196.6 536.0l3.2 3.2l-3.2 3.2l-3.2-3.2zM1151.3 538.9l3.2 3.2l-3.2 3.2l-3.2-3.2zM1201.4 535.4l3.2 3.2l-3.2 3.2l-3.2-3.2zM1147.4 537.7l3.2 3.2l-3.2 3.2l-3.2-3.2zM1206.1 535.3l3.2 3.2l-3.2 3.2l-3.2-3.2zM1175.9 539.8l3.2 3.2l-3.2 3.2l-3.2-3.2zM1181.3 541.4l3.2 3.2l-3.2 3.2l-3.2-3.2zM1171.6 540.2l3.2 3.2l-3.2 3.2l-3.2-3.2zM1185.3 541.0l3.2 3.2l-3.2 3.2l-3.2-3.2zM1167.8 539.4l3.2 3.2l-3.2 3.2l-3.2-3.2zM1188.2 541.5l3.2 3.2l-3.2 3.2l-3.2-3.2zM1164.6 540.5l3.2 3.2l-3.2 3.2l-3.2-3.2zM1159.9 540.6l3.2 3.2l-3.2 3.2l-3.2-3.2zM1198.1 542.0l3.2 3.2l-3.2 3.2l-3.2-3.2zM1155.6 539.1l3.2 3.2l-3.2 3.2l-3.2-3.2zM1201.5 540.8l3.2 3.2l-3.2 3.2l-3.2-3.2zM1150.8 538.7l3.2 3.2l-3.2 3.2l-3.2-3.2zM1205.4 541.4l3.2 3.2l-3.2 3.2l-3.2-3.2zM1146.2 539.6l3.2 3.2l-3.2 3.2l-3.2-3.2zM1177.2 542.8l3.2 3.2l-3.2 3.2l-3.2-3.2zM1180.0 545.3l3.2 3.2l-3.2 3.2l-3.2-3.2zM1172.5 542.5l3.2 3.2l-3.2 3.2l-3.2-3.2zM1184.7 543.7l3.2 3.2l-3.2 3.2l-3.2-3.2zM1167.2 541.3l3.2 3.2l-3.2 3.2l-3.2-3.2zM1188.3 543.6l3.2 3.2l-3.2 3.2l-3.2-3.2zM1164.2 543.3l3.2 3.2l-3.2 3.2l-3.2-3.2zM1193.0 545.1l3.2 3.2l-3.2 3.2l-3.2-3.2zM1159.1 542.2l3.2 3.2l-3.2 3.2l-3.2-3.2zM1197.1 545.1l3.2 3.2l-3.2 3.2l-3.2-3.2zM1154.6 542.5l3.2 3.2l-3.2 3.2l-3.2-3.2zM1202.3 543.9l3.2 3.2l-3.2 3.2l-3.2-3.2zM1151.6 542.7l3.2 3.2l-3.2 3.2l-3.2-3.2zM1206.7 544.4l3.2 3.2l-3.2 3.2l-3.2-3.2zM1175.7 544.4l3.2 3.2l-3.2 3.2l-3.2-3.2zM1173.1 547.3l3.2 3.2l-3.2 3.2l-3.2-3.2zM1167.8 546.9l3.2 3.2l-3.2 3.2l-3.2-3.2zM1184.8 544.4l3.2 3.2l-3.2 3.2l-3.2-3.2zM1163.0 547.2l3.2 3.2l-3.2 3.2l-3.2-3.2zM1188.3 545.0l3.2 3.2l-3.2 3.2l-3.2-3.2zM1159.2 548.4l3.2 3.2l-3.2 3.2l-3.2-3.2zM1192.9 546.0l3.2 3.2l-3.2 3.2l-3.2-3.2zM1155.6 548.6l3.2 3.2l-3.2 3.2l-3.2-3.2zM1198.3 545.3l3.2 3.2l-3.2 3.2l-3.2-3.2zM1151.3 548.2l3.2 3.2l-3.2 3.2l-3.2-3.2zM1201.0 544.8l3.2 3.2l-3.2 3.2l-3.2-3.2zM1175.6 548.3l3.2 3.2l-3.2 3.2l-3.2-3.2zM1180.5 551.2l3.2 3.2l-3.2 3.2l-3.2-3.2zM1172.2 549.5l3.2 3.2l-3.2 3.2l-3.2-3.2zM1168.5 549.4l3.2 3.2l-3.2 3.2l-3.2-3.2zM1188.9 550.4l3.2 3.2l-3.2 3.2l-3.2-3.2zM1164.5 548.4l3.2 3.2l-3.2 3.2l-3.2-3.2zM1192.4 550.2l3.2 3.2l-3.2 3.2l-3.2-3.2zM1159.1 548.0l3.2 3.2l-3.2 3.2l-3.2-3.2zM1197.9 551.4l3.2 3.2l-3.2 3.2l-3.2-3.2zM1155.1 549.2l3.2 3.2l-3.2 3.2l-3.2-3.2zM1201.1 549.8l3.2 3.2l-3.2 3.2l-3.2-3.2zM1152.0 549.7l3.2 3.2l-3.2 3.2l-3.2-3.2zM1206.1 551.9l3.2 3.2l-3.2 3.2l-3.2-3.2zM1147.1 548.5l3.2 3.2l-3.2 3.2l-3.2-3.2zM1176.4 553.3l3.2 3.2l-3.2 3.2l-3.2-3.2zM1172.2 555.1l3.2 3.2l-3.2 3.2l-3.2-3.2zM1180.6 552.2l3.2 3.2l-3.2 3.2l-3.2-3.2zM1167.8 553.9l3.2 3.2l-3.2 3.2l-3.2-3.2zM1184.0 552.7l3.2 3.2l-3.2 3.2l-3.2-3.2zM1162.9 554.7l3.2 3.2l-3.2 3.2l-3.2-3.2zM1188.2 553.1l3.2 3.2l-3.2 3.2l-3.2-3.2zM1159.5 554.5l3.2 3.2l-3.2 3.2l-3.2-3.2zM1194.0 551.0l3.2 3.2l-3.2 3.2l-3.2-3.2zM1156.0 554.6l3.2 3.2l-3.2 3.2l-3.2-3.2zM1197.9 551.5l3.2 3.2l-3.2 3.2l-3.2-3.2zM1151.0 554.6l3.2 3.2l-3.2 3.2l-3.2-3.2zM1176.0 555.8l3.2 3.2l-3.2 3.2l-3.2-3.2zM1181.5 558.4l3.2 3.2l-3.2 3.2l-3.2-3.2zM1172.6 556.9l3.2 3.2l-3.2 3.2l-3.2-3.2zM1185.6 557.9l3.2 3.2l-3.2 3.2l-3.2-3.2zM1168.8 556.7l3.2 3.2l-3.2 3.2l-3.2-3.2zM1189.5 558.0l3.2 3.2l-3.2 3.2l-3.2-3.2zM1163.5 555.9l3.2 3.2l-3.2 3.2l-3.2-3.2zM1193.0 557.5l3.2 3.2l-3.2 3.2l-3.2-3.2zM1197.6 558.5l3.2 3.2l-3.2 3.2l-3.2-3.2zM1155.4 555.3l3.2 3.2l-3.2 3.2l-3.2-3.2zM1202.1 558.3l3.2 3.2l-3.2 3.2l-3.2-3.2zM1152.0 556.0l3.2 3.2l-3.2 3.2l-3.2-3.2zM1176.8 559.6l3.2 3.2l-3.2 3.2l-3.2-3.2zM1179.9 561.8l3.2 3.2l-3.2 3.2l-3.2-3.2zM1172.1 559.4l3.2 3.2l-3.2 3.2l-3.2-3.2zM1184.7 560.8l3.2 3.2l-3.2 3.2l-3.2-3.2zM1189.3 562.7l3.2 3.2l-3.2 3.2l-3.2-3.2zM1164.1 560.4l3.2 3.2l-3.2 3.2l-3.2-3.2zM1192.4 562.5l3.2 3.2l-3.2 3.2l-3.2-3.2zM1158.9 560.3l3.2 3.2l-3.2 3.2l-3.2-3.2zM1197.2 562.0l3.2 3.2l-3.2 3.2l-3.2-3.2zM1175.9 564.1l3.2 3.2l-3.2 3.2l-3.2-3.2zM1181.5 565.8l3.2 3.2l-3.2 3.2l-3.2-3.2zM1172.3 564.0l3.2 3.2l-3.2 3.2l-3.2-3.2zM1184.8 565.3l3.2 3.2l-3.2 3.2l-3.2-3.2zM1189.8 566.2l3.2 3.2l-3.2 3.2l-3.2-3.2zM1164.3 563.2l3.2 3.2l-3.2 3.2l-3.2-3.2zM1193.6 564.6l3.2 3.2l-3.2 3.2l-3.2-3.2zM1159.7 563.3l3.2 3.2l-3.2 3.2l-3.2-3.2zM1197.6 565.9l3.2 3.2l-3.2 3.2l-3.2-3.2zM1155.8 563.1l3.2 3.2l-3.2 3.2l-3.2-3.2zM1175.8 566.0l3.2 3.2l-3.2 3.2l-3.2-3.2zM1180.5 568.9l3.2 3.2l-3.2 3.2l-3.2-3.2zM1171.5 566.6l3.2 3.2l-3.2 3.2l-3.2-3.2zM1185.0 568.6l3.2 3.2l-3.2 3.2l-3.2-3.2zM1168.4 567.6l3.2 3.2l-3.2 3.2l-3.2-3.2zM1188.2 569.2l3.2 3.2l-3.2 3.2l-3.2-3.2zM1163.8 567.1l3.2 3.2l-3.2 3.2l-3.2-3.2zM1193.7 568.0l3.2 3.2l-3.2 3.2l-3.2-3.2zM1160.0 565.7l3.2 3.2l-3.2 3.2l-3.2-3.2zM1176.4 570.0l3.2 3.2l-3.2 3.2l-3.2-3.2zM1181.1 569.7l3.2 3.2l-3.2 3.2l-3.2-3.2zM1168.4 570.4l3.2 3.2l-3.2 3.2l-3.2-3.2zM1184.0 569.5l3.2 3.2l-3.2 3.2l-3.2-3.2zM1189.2 570.5l3.2 3.2l-3.2 3.2l-3.2-3.2zM1159.6 571.5l3.2 3.2l-3.2 3.2l-3.2-3.2zM1193.7 568.9l3.2 3.2l-3.2 3.2l-3.2-3.2zM1156.1 572.2l3.2 3.2l-3.2 3.2l-3.2-3.2zM1176.3 572.7l3.2 3.2l-3.2 3.2l-3.2-3.2zM1171.8 574.3l3.2 3.2l-3.2 3.2l-3.2-3.2zM1180.1 572.3l3.2 3.2l-3.2 3.2l-3.2-3.2zM1168.1 573.9l3.2 3.2l-3.2 3.2l-3.2-3.2zM1185.2 572.7l3.2 3.2l-3.2 3.2l-3.2-3.2zM1163.6 575.2l3.2 3.2l-3.2 3.2l-3.2-3.2zM1189.1 572.7l3.2 3.2l-3.2 3.2l-3.2-3.2zM1158.8 574.3l3.2 3.2l-3.2 3.2l-3.2-3.2zM1193.2 573.3l3.2 3.2l-3.2 3.2l-3.2-3.2zM1176.9 576.4l3.2 3.2l-3.2 3.2l-3.2-3.2zM1180.0 579.3l3.2 3.2l-3.2 3.2l-3.2-3.2zM1173.0 576.7l3.2 3.2l-3.2 3.2l-3.2-3.2zM1184.1 578.6l3.2 3.2l-3.2 3.2l-3.2-3.2zM1167.2 575.5l3.2 3.2l-3.2 3.2l-3.2-3.2zM1188.8 578.5l3.2 3.2l-3.2 3.2l-3.2-3.2zM1164.3 576.1l3.2 3.2l-3.2 3.2l-3.2-3.2zM1175.8 580.2l3.2 3.2l-3.2 3.2l-3.2-3.2zM1181.5 581.7l3.2 3.2l-3.2 3.2l-3.2-3.2zM1172.8 580.6l3.2 3.2l-3.2 3.2l-3.2-3.2zM1184.9 582.1l3.2 3.2l-3.2 3.2l-3.2-3.2zM1168.7 581.1l3.2 3.2l-3.2 3.2l-3.2-3.2zM1189.3 582.4l3.2 3.2l-3.2 3.2l-3.2-3.2zM1163.7 579.2l3.2 3.2l-3.2 3.2l-3.2-3.2zM1175.9 584.2l3.2 3.2l-3.2 3.2l-3.2-3.2zM1171.5 584.8l3.2 3.2l-3.2 3.2l-3.2-3.2zM1181.3 583.7l3.2 3.2l-3.2 3.2l-3.2-3.2zM1168.0 585.2l3.2 3.2l-3.2 3.2l-3.2-3.2zM1184.6 584.1l3.2 3.2l-3.2 3.2l-3.2-3.2zM1176.9 586.3l3.2 3.2l-3.2 3.2l-3.2-3.2zM1180.6 588.5l3.2 3.2l-3.2 3.2l-3.2-3.2zM1171.6 586.7l3.2 3.2l-3.2 3.2l-3.2-3.2zM1175.7 589.6l3.2 3.2l-3.2 3.2l-3.2-3.2zM1181.1 591.2l3.2 3.2l-3.2 3.2l-3.2-3.2zM1172.1 590.5l3.2 3.2l-3.2 3.2l-3.2-3.2zM1177.2 593.0l3.2 3.2l-3.2 3.2l-3.2-3.2zM1171.3 596.3l3.2 3.2l-3.2 3.2l-3.2-3.2zM1181.0 593.6l3.2 3.2l-3.2 3.2l-3.2-3.2zM1175.9 596.6l3.2 3.2l-3.2 3.2l-3.2-3.2zM1171.6 598.4l3.2 3.2l-3.2 3.2l-3.2-3.2z" fill="#404040" stroke="#fff" stroke-width="0.25" stroke-opacity="0.5"/>
<path d="M1280.4 411.2l3.2 3.2l-3.2 3.2l-3.2-3.2zM1280.4 414.8l3.2 3.2l-3.2 3.2l-3.2-3.2zM1280.4 418.3l3.2 3.2l-3.2 3.2l-3.2-3.2zM1280.4 434.3l3.2 3.2l-3.2 3.2l-3.2-3.2zM1274.4 437.3l3.2 3.2l-3.2 3.2l-3.2-3.2zM1286.4 437.8l3.2 3.2l-3.2 3.2l-3.2-3.2zM1280.4 440.8l3.2 3.2l-3.2 3.2l-3.2-3.2zM1280.4 444.3l3.2 3.2l-3.2 3.2l-3.2-3.2zM1280.4 451.4l3.2 3.2l-3.2 3.2l-3.2-3.2zM1277.4 459.8l3.2 3.2l-3.2 3.2l-3.2-3.2zM1283.4 462.8l3.2 3.2l-3.2 3.2l-3.2-3.2zM1280.4 466.3l3.2 3.2l-3.2 3.2l-3.2-3.2zM1277.4 469.8l3.2 3.2l-3.2 3.2l-3.2-3.2zM1283.4 472.8l3.2 3.2l-3.2 3.2l-3.2-3.2zM1280.4 475.8l3.2 3.2l-3.2 3.2l-3.2-3.2zM1274.4 482.8l3.2 3.2l-3.2 3.2l-3.2-3.2zM1284.4 484.8l3.2 3.2l-3.2 3.2l-3.2-3.2zM1280.4 487.8l3.2 3.2l-3.2 3.2l-3.2-3.2zM1281.0 490.5l3.2 3.2l-3.2 3.2l-3.2-3.2zM1283.8 492.0l3.2 3.2l-3.2 3.2l-3.2-3.2zM1276.7 490.5l3.2 3.2l-3.2 3.2l-3.2-3.2zM1289.6 492.6l3.2 3.2l-3.2 3.2l-3.2-3.2zM1271.8 490.9l3.2 3.2l-3.2 3.2l-3.2-3.2zM1293.7 493.1l3.2 3.2l-3.2 3.2l-3.2-3.2zM1279.7 494.3l3.2 3.2l-3.2 3.2l-3.2-3.2zM1284.0 496.8l3.2 3.2l-3.2 3.2l-3.2-3.2zM1276.9 494.0l3.2 3.2l-3.2 3.2l-3.2-3.2zM1289.7 496.0l3.2 3.2l-3.2 3.2l-3.2-3.2zM1272.4 494.8l3.2 3.2l-3.2 3.2l-3.2-3.2zM1293.8 495.9l3.2 3.2l-3.2 3.2l-3.2-3.2zM1280.1 498.2l3.2 3.2l-3.2 3.2l-3.2-3.2zM1276.5 499.4l3.2 3.2l-3.2 3.2l-3.2-3.2zM1285.3 497.6l3.2 3.2l-3.2 3.2l-3.2-3.2zM1271.6 499.7l3.2 3.2l-3.2 3.2l-3.2-3.2zM1288.8 497.2l3.2 3.2l-3.2 3.2l-3.2-3.2zM1267.8 499.7l3.2 3.2l-3.2 3.2l-3.2-3.2zM1293.5 497.9l3.2 3.2l-3.2 3.2l-3.2-3.2zM1264.5 499.4l3.2 3.2l-3.2 3.2l-3.2-3.2zM1281.1 500.4l3.2 3.2l-3.2 3.2l-3.2-3.2zM1275.7 503.1l3.2 3.2l-3.2 3.2l-3.2-3.2zM1285.0 500.0l3.2 3.2l-3.2 3.2l-3.2-3.2zM1288.0 501.2l3.2 3.2l-3.2 3.2l-3.2-3.2zM1266.9 502.3l3.2 3.2l-3.2 3.2l-3.2-3.2zM1292.4 499.6l3.2 3.2l-3.2 3.2l-3.2-3.2zM1264.5 501.6l3.2 3.2l-3.2 3.2l-3.2-3.2zM1297.4 500.9l3.2 3.2l-3.2 3.2l-3.2-3.2zM1258.6 501.8l3.2 3.2l-3.2 3.2l-3.2-3.2zM1281.1 503.9l3.2 3.2l-3.2 3.2l-3.2-3.2zM1276.5 505.5l3.2 3.2l-3.2 3.2l-3.2-3.2zM1285.3 504.4l3.2 3.2l-3.2 3.2l-3.2-3.2zM1272.0 505.9l3.2 3.2l-3.2 3.2l-3.2-3.2zM1289.0 503.1l3.2 3.2l-3.2 3.2l-3.2-3.2zM1267.2 505.5l3.2 3.2l-3.2 3.2l-3.2-3.2zM1292.3 504.0l3.2 3.2l-3.2 3.2l-3.2-3.2zM1264.4 506.7l3.2 3.2l-3.2 3.2l-3.2-3.2zM1296.8 504.2l3.2 3.2l-3.2 3.2l-3.2-3.2zM1259.8 506.6l3.2 3.2l-3.2 3.2l-3.2-3.2zM1280.2 506.4l3.2 3.2l-3.2 3.2l-3.2-3.2zM1283.9 508.6l3.2 3.2l-3.2 3.2l-3.2-3.2zM1289.1 508.0l3.2 3.2l-3.2 3.2l-3.2-3.2zM1272.3 507.0l3.2 3.2l-3.2 3.2l-3.2-3.2zM1292.9 509.4l3.2 3.2l-3.2 3.2l-3.2-3.2zM1297.3 510.3l3.2 3.2l-3.2 3.2l-3.2-3.2zM1262.7 507.0l3.2 3.2l-3.2 3.2l-3.2-3.2zM1280.2 512.3l3.2 3.2l-3.2 3.2l-3.2-3.2zM1285.2 511.4l3.2 3.2l-3.2 3.2l-3.2-3.2zM1271.8 512.5l3.2 3.2l-3.2 3.2l-3.2-3.2zM1288.0 511.7l3.2 3.2l-3.2 3.2l-3.2-3.2zM1267.0 513.7l3.2 3.2l-3.2 3.2l-3.2-3.2zM1292.8 511.7l3.2 3.2l-3.2 3.2l-3.2-3.2zM1262.9 513.3l3.2 3.2l-3.2 3.2l-3.2-3.2zM1279.9 514.4l3.2 3.2l-3.2 3.2l-3.2-3.2zM1275.4 516.4l3.2 3.2l-3.2 3.2l-3.2-3.2zM1284.0 515.3l3.2 3.2l-3.2 3.2l-3.2-3.2zM1272.4 516.9l3.2 3.2l-3.2 3.2l-3.2-3.2zM1289.1 514.4l3.2 3.2l-3.2 3.2l-3.2-3.2zM1267.9 516.0l3.2 3.2l-3.2 3.2l-3.2-3.2zM1293.4 513.4l3.2 3.2l-3.2 3.2l-3.2-3.2zM1263.7 515.3l3.2 3.2l-3.2 3.2l-3.2-3.2zM1297.9 514.3l3.2 3.2l-3.2 3.2l-3.2-3.2zM1280.8 517.3l3.2 3.2l-3.2 3.2l-3.2-3.2zM1284.2 519.3l3.2 3.2l-3.2 3.2l-3.2-3.2zM1276.1 518.2l3.2 3.2l-3.2 3.2l-3.2-3.2zM1288.2 519.7l3.2 3.2l-3.2 3.2l-3.2-3.2zM1272.7 517.1l3.2 3.2l-3.2 3.2l-3.2-3.2zM1292.9 520.7l3.2 3.2l-3.2 3.2l-3.2-3.2zM1268.2 517.5l3.2 3.2l-3.2 3.2l-3.2-3.2zM1296.8 519.1l3.2 3.2l-3.2 3.2l-3.2-3.2zM1263.3 518.4l3.2 3.2l-3.2 3.2l-3.2-3.2zM1300.6 520.9l3.2 3.2l-3.2 3.2l-3.2-3.2zM1258.8 517.8l3.2 3.2l-3.2 3.2l-3.2-3.2zM1306.3 520.4l3.2 3.2l-3.2 3.2l-3.2-3.2zM1281.0 521.1l3.2 3.2l-3.2 3.2l-3.2-3.2zM1285.3 521.2l3.2 3.2l-3.2 3.2l-3.2-3.2zM1272.5 523.3l3.2 3.2l-3.2 3.2l-3.2-3.2zM1288.2 521.2l3.2 3.2l-3.2 3.2l-3.2-3.2zM1267.7 523.0l3.2 3.2l-3.2 3.2l-3.2-3.2zM1292.5 521.2l3.2 3.2l-3.2 3.2l-3.2-3.2zM1263.6 522.0l3.2 3.2l-3.2 3.2l-3.2-3.2zM1297.2 521.6l3.2 3.2l-3.2 3.2l-3.2-3.2zM1259.4 522.7l3.2 3.2l-3.2 3.2l-3.2-3.2zM1255.7 523.1l3.2 3.2l-3.2 3.2l-3.2-3.2zM1306.1 521.7l3.2 3.2l-3.2 3.2l-3.2-3.2zM1280.7 526.0l3.2 3.2l-3.2 3.2l-3.2-3.2zM1283.7 526.9l3.2 3.2l-3.2 3.2l-3.2-3.2zM1289.1 526.8l3.2 3.2l-3.2 3.2l-3.2-3.2zM1272.4 525.9l3.2 3.2l-3.2 3.2l-3.2-3.2zM1292.7 526.6l3.2 3.2l-3.2 3.2l-3.2-3.2zM1267.8 525.7l3.2 3.2l-3.2 3.2l-3.2-3.2zM1297.4 526.7l3.2 3.2l-3.2 3.2l-3.2-3.2zM1262.9 525.6l3.2 3.2l-3.2 3.2l-3.2-3.2zM1258.6 525.2l3.2 3.2l-3.2 3.2l-3.2-3.2zM1306.2 527.8l3.2 3.2l-3.2 3.2l-3.2-3.2zM1280.3 527.9l3.2 3.2l-3.2 3.2l-3.2-3.2zM1284.5 531.5l3.2 3.2l-3.2 3.2l-3.2-3.2zM1275.5 527.6l3.2 3.2l-3.2 3.2l-3.2-3.2zM1288.6 530.3l3.2 3.2l-3.2 3.2l-3.2-3.2zM1272.6 527.6l3.2 3.2l-3.2 3.2l-3.2-3.2zM1292.7 530.8l3.2 3.2l-3.2 3.2l-3.2-3.2zM1268.1 527.9l3.2 3.2l-3.2 3.2l-3.2-3.2zM1297.9 531.0l3.2 3.2l-3.2 3.2l-3.2-3.2zM1263.2 528.9l3.2 3.2l-3.2 3.2l-3.2-3.2zM1301.2 530.4l3.2 3.2l-3.2 3.2l-3.2-3.2zM1259.4 527.6l3.2 3.2l-3.2 3.2l-3.2-3.2zM1304.9 530.7l3.2 3.2l-3.2 3.2l-3.2-3.2zM1280.7 531.7l3.2 3.2l-3.2 3.2l-3.2-3.2zM1276.3 531.5l3.2 3.2l-3.2 3.2l-3.2-3.2zM1288.3 534.0l3.2 3.2l-3.2 3.2l-3.2-3.2zM1271.7 531.7l3.2 3.2l-3.2 3.2l-3.2-3.2zM1292.4 532.9l3.2 3.2l-3.2 3.2l-3.2-3.2zM1268.6 530.8l3.2 3.2l-3.2 3.2l-3.2-3.2zM1296.6 534.4l3.2 3.2l-3.2 3.2l-3.2-3.2zM1263.3 531.5l3.2 3.2l-3.2 3.2l-3.2-3.2zM1301.8 533.5l3.2 3.2l-3.2 3.2l-3.2-3.2zM1259.9 531.4l3.2 3.2l-3.2 3.2l-3.2-3.2zM1305.8 534.2l3.2 3.2l-3.2 3.2l-3.2-3.2zM1255.2 532.0l3.2 3.2l-3.2 3.2l-3.2-3.2zM1309.6 533.4l3.2 3.2l-3.2 3.2l-3.2-3.2zM1281.2 534.5l3.2 3.2l-3.2 3.2l-3.2-3.2zM1284.5 536.6l3.2 3.2l-3.2 3.2l-3.2-3.2zM1275.7 535.8l3.2 3.2l-3.2 3.2l-3.2-3.2zM1272.6 534.4l3.2 3.2l-3.2 3.2l-3.2-3.2zM1292.2 537.5l3.2 3.2l-3.2 3.2l-3.2-3.2zM1267.9 536.1l3.2 3.2l-3.2 3.2l-3.2-3.2zM1263.3 536.3l3.2 3.2l-3.2 3.2l-3.2-3.2zM1300.5 536.6l3.2 3.2l-3.2 3.2l-3.2-3.2zM1259.9 535.4l3.2 3.2l-3.2 3.2l-3.2-3.2zM1305.9 537.0l3.2 3.2l-3.2 3.2l-3.2-3.2zM1255.7 534.7l3.2 3.2l-3.2 3.2l-3.2-3.2zM1309.2 537.7l3.2 3.2l-3.2 3.2l-3.2-3.2zM1280.3 539.3l3.2 3.2l-3.2 3.2l-3.2-3.2zM1284.7 542.0l3.2 3.2l-3.2 3.2l-3.2-3.2zM1277.1 539.9l3.2 3.2l-3.2 3.2l-3.2-3.2zM1289.1 541.7l3.2 3.2l-3.2 3.2l-3.2-3.2zM1293.1 540.3l3.2 3.2l-3.2 3.2l-3.2-3.2zM1268.2 539.4l3.2 3.2l-3.2 3.2l-3.2-3.2zM1297.8 541.0l3.2 3.2l-3.2 3.2l-3.2-3.2zM1263.1 538.3l3.2 3.2l-3.2 3.2l-3.2-3.2zM1300.8 541.4l3.2 3.2l-3.2 3.2l-3.2-3.2zM1259.3 539.3l3.2 3.2l-3.2 3.2l-3.2-3.2zM1306.0 541.3l3.2 3.2l-3.2 3.2l-3.2-3.2zM1255.0 538.8l3.2 3.2l-3.2 3.2l-3.2-3.2zM1280.6 543.4l3.2 3.2l-3.2 3.2l-3.2-3.2zM1284.5 544.3l3.2 3.2l-3.2 3.2l-3.2-3.2zM1276.6 542.5l3.2 3.2l-3.2 3.2l-3.2-3.2zM1288.2 543.9l3.2 3.2l-3.2 3.2l-3.2-3.2zM1271.8 542.9l3.2 3.2l-3.2 3.2l-3.2-3.2zM1292.9 544.8l3.2 3.2l-3.2 3.2l-3.2-3.2zM1267.0 541.9l3.2 3.2l-3.2 3.2l-3.2-3.2zM1297.7 544.6l3.2 3.2l-3.2 3.2l-3.2-3.2zM1264.4 541.9l3.2 3.2l-3.2 3.2l-3.2-3.2zM1300.7 545.1l3.2 3.2l-3.2 3.2l-3.2-3.2zM1258.6 543.9l3.2 3.2l-3.2 3.2l-3.2-3.2zM1306.2 545.2l3.2 3.2l-3.2 3.2l-3.2-3.2zM1254.8 543.0l3.2 3.2l-3.2 3.2l-3.2-3.2zM1310.3 543.7l3.2 3.2l-3.2 3.2l-3.2-3.2zM1280.4 546.1l3.2 3.2l-3.2 3.2l-3.2-3.2zM1275.8 548.2l3.2 3.2l-3.2 3.2l-3.2-3.2zM1285.0 545.4l3.2 3.2l-3.2 3.2l-3.2-3.2zM1272.0 548.7l3.2 3.2l-3.2 3.2l-3.2-3.2zM1289.1 546.0l3.2 3.2l-3.2 3.2l-3.2-3.2zM1267.7 548.2l3.2 3.2l-3.2 3.2l-3.2-3.2zM1292.8 546.4l3.2 3.2l-3.2 3.2l-3.2-3.2zM1264.2 548.0l3.2 3.2l-3.2 3.2l-3.2-3.2zM1296.4 546.1l3.2 3.2l-3.2 3.2l-3.2-3.2zM1258.7 548.2l3.2 3.2l-3.2 3.2l-3.2-3.2zM1301.5 546.8l3.2 3.2l-3.2 3.2l-3.2-3.2zM1254.3 548.1l3.2 3.2l-3.2 3.2l-3.2-3.2zM1305.3 546.2l3.2 3.2l-3.2 3.2l-3.2-3.2zM1280.7 550.5l3.2 3.2l-3.2 3.2l-3.2-3.2zM1285.0 551.4l3.2 3.2l-3.2 3.2l-3.2-3.2zM1288.9 550.8l3.2 3.2l-3.2 3.2l-3.2-3.2zM1271.7 549.0l3.2 3.2l-3.2 3.2l-3.2-3.2zM1293.8 552.1l3.2 3.2l-3.2 3.2l-3.2-3.2zM1268.0 549.5l3.2 3.2l-3.2 3.2l-3.2-3.2zM1297.4 551.2l3.2 3.2l-3.2 3.2l-3.2-3.2zM1262.8 549.4l3.2 3.2l-3.2 3.2l-3.2-3.2zM1301.9 552.1l3.2 3.2l-3.2 3.2l-3.2-3.2zM1259.6 549.7l3.2 3.2l-3.2 3.2l-3.2-3.2zM1281.1 553.1l3.2 3.2l-3.2 3.2l-3.2-3.2zM1284.4 553.9l3.2 3.2l-3.2 3.2l-3.2-3.2zM1271.2 555.3l3.2 3.2l-3.2 3.2l-3.2-3.2zM1288.6 553.2l3.2 3.2l-3.2 3.2l-3.2-3.2zM1267.0 555.6l3.2 3.2l-3.2 3.2l-3.2-3.2zM1293.7 553.5l3.2 3.2l-3.2 3.2l-3.2-3.2zM1263.4 555.4l3.2 3.2l-3.2 3.2l-3.2-3.2zM1297.1 553.6l3.2 3.2l-3.2 3.2l-3.2-3.2zM1259.7 556.6l3.2 3.2l-3.2 3.2l-3.2-3.2zM1301.1 552.9l3.2 3.2l-3.2 3.2l-3.2-3.2zM1280.3 556.9l3.2 3.2l-3.2 3.2l-3.2-3.2zM1275.7 558.8l3.2 3.2l-3.2 3.2l-3.2-3.2zM1284.8 557.3l3.2 3.2l-3.2 3.2l-3.2-3.2zM1288.9 557.7l3.2 3.2l-3.2 3.2l-3.2-3.2zM1268.2 559.1l3.2 3.2l-3.2 3.2l-3.2-3.2zM1293.3 556.9l3.2 3.2l-3.2 3.2l-3.2-3.2zM1264.4 559.3l3.2 3.2l-3.2 3.2l-3.2-3.2zM1297.9 557.5l3.2 3.2l-3.2 3.2l-3.2-3.2zM1280.3 561.1l3.2 3.2l-3.2 3.2l-3.2-3.2zM1276.8 563.0l3.2 3.2l-3.2 3.2l-3.2-3.2zM1285.0 560.9l3.2 3.2l-3.2 3.2l-3.2-3.2zM1271.5 562.6l3.2 3.2l-3.2 3.2l-3.2-3.2zM1289.2 561.4l3.2 3.2l-3.2 3.2l-3.2-3.2zM1267.5 562.3l3.2 3.2l-3.2 3.2l-3.2-3.2zM1293.8 561.7l3.2 3.2l-3.2 3.2l-3.2-3.2zM1263.8 562.1l3.2 3.2l-3.2 3.2l-3.2-3.2zM1297.8 560.8l3.2 3.2l-3.2 3.2l-3.2-3.2zM1280.1 565.3l3.2 3.2l-3.2 3.2l-3.2-3.2zM1277.0 566.3l3.2 3.2l-3.2 3.2l-3.2-3.2zM1283.8 564.1l3.2 3.2l-3.2 3.2l-3.2-3.2zM1271.7 565.9l3.2 3.2l-3.2 3.2l-3.2-3.2zM1289.5 564.7l3.2 3.2l-3.2 3.2l-3.2-3.2zM1268.0 566.0l3.2 3.2l-3.2 3.2l-3.2-3.2zM1293.1 565.2l3.2 3.2l-3.2 3.2l-3.2-3.2zM1263.6 566.0l3.2 3.2l-3.2 3.2l-3.2-3.2zM1281.1 568.6l3.2 3.2l-3.2 3.2l-3.2-3.2zM1284.1 570.3l3.2 3.2l-3.2 3.2l-3.2-3.2zM1275.7 567.8l3.2 3.2l-3.2 3.2l-3.2-3.2zM1289.2 569.8l3.2 3.2l-3.2 3.2l-3.2-3.2zM1272.2 568.2l3.2 3.2l-3.2 3.2l-3.2-3.2zM1293.4 569.2l3.2 3.2l-3.2 3.2l-3.2-3.2zM1280.6 571.7l3.2 3.2l-3.2 3.2l-3.2-3.2zM1283.7 573.8l3.2 3.2l-3.2 3.2l-3.2-3.2zM1276.0 571.7l3.2 3.2l-3.2 3.2l-3.2-3.2zM1288.2 573.3l3.2 3.2l-3.2 3.2l-3.2-3.2zM1272.3 572.3l3.2 3.2l-3.2 3.2l-3.2-3.2zM1293.7 574.4l3.2 3.2l-3.2 3.2l-3.2-3.2zM1281.1 575.4l3.2 3.2l-3.2 3.2l-3.2-3.2zM1276.4 577.1l3.2 3.2l-3.2 3.2l-3.2-3.2zM1284.3 575.5l3.2 3.2l-3.2 3.2l-3.2-3.2zM1272.2 577.0l3.2 3.2l-3.2 3.2l-3.2-3.2zM1289.4 575.7l3.2 3.2l-3.2 3.2l-3.2-3.2zM1280.9 578.8l3.2 3.2l-3.2 3.2l-3.2-3.2zM1285.5 581.6l3.2 3.2l-3.2 3.2l-3.2-3.2zM1280.8 583.3l3.2 3.2l-3.2 3.2l-3.2-3.2zM1285.1 585.1l3.2 3.2l-3.2 3.2l-3.2-3.2zM1275.4 582.6l3.2 3.2l-3.2 3.2l-3.2-3.2zM1280.7 587.0l3.2 3.2l-3.2 3.2l-3.2-3.2zM1280.8 589.0l3.2 3.2l-3.2 3.2l-3.2-3.2zM1284.0 590.7l3.2 3.2l-3.2 3.2l-3.2-3.2zM1281.1 594.3l3.2 3.2l-3.2 3.2l-3.2-3.2zM1285.4 595.2l3.2 3.2l-3.2 3.2l-3.2-3.2zM1275.7 594.3l3.2 3.2l-3.2 3.2l-3.2-3.2zM1280.7 596.6l3.2 3.2l-3.2 3.2l-3.2-3.2z" fill="#76d1fa" stroke="#fff" stroke-width="0.25" stroke-opacity="0.5"/>
<path d="M1385.0 195.4l3.2 3.2l-3.2 3.2l-3.2-3.2zM1389.0 213.8l3.2 3.2l-3.2 3.2l-3.2-3.2zM1385.0 219.0l3.2 3.2l-3.2 3.2l-3.2-3.2zM1385.0 229.7l3.2 3.2l-3.2 3.2l-3.2-3.2zM1385.0 245.1l3.2 3.2l-3.2 3.2l-3.2-3.2zM1385.0 309.0l3.2 3.2l-3.2 3.2l-3.2-3.2zM1385.0 320.5l3.2 3.2l-3.2 3.2l-3.2-3.2zM1385.0 330.7l3.2 3.2l-3.2 3.2l-3.2-3.2zM1385.0 338.0l3.2 3.2l-3.2 3.2l-3.2-3.2zM1385.0 345.2l3.2 3.2l-3.2 3.2l-3.2-3.2zM1389.0 349.3l3.2 3.2l-3.2 3.2l-3.2-3.2zM1385.0 352.9l3.2 3.2l-3.2 3.2l-3.2-3.2zM1381.0 360.5l3.2 3.2l-3.2 3.2l-3.2-3.2zM1389.0 363.1l3.2 3.2l-3.2 3.2l-3.2-3.2zM1385.0 364.8l3.2 3.2l-3.2 3.2l-3.2-3.2zM1393.0 370.6l3.2 3.2l-3.2 3.2l-3.2-3.2zM1389.0 372.4l3.2 3.2l-3.2 3.2l-3.2-3.2zM1385.0 375.9l3.2 3.2l-3.2 3.2l-3.2-3.2zM1381.0 377.0l3.2 3.2l-3.2 3.2l-3.2-3.2zM1393.0 379.9l3.2 3.2l-3.2 3.2l-3.2-3.2zM1385.0 385.8l3.2 3.2l-3.2 3.2l-3.2-3.2zM1380.5 387.8l3.2 3.2l-3.2 3.2l-3.2-3.2zM1389.5 385.4l3.2 3.2l-3.2 3.2l-3.2-3.2zM1375.7 387.4l3.2 3.2l-3.2 3.2l-3.2-3.2zM1384.4 389.7l3.2 3.2l-3.2 3.2l-3.2-3.2zM1390.0 390.7l3.2 3.2l-3.2 3.2l-3.2-3.2zM1394.3 391.4l3.2 3.2l-3.2 3.2l-3.2-3.2zM1377.0 388.3l3.2 3.2l-3.2 3.2l-3.2-3.2zM1384.9 393.9l3.2 3.2l-3.2 3.2l-3.2-3.2zM1389.2 394.9l3.2 3.2l-3.2 3.2l-3.2-3.2zM1394.1 395.9l3.2 3.2l-3.2 3.2l-3.2-3.2zM1385.6 396.9l3.2 3.2l-3.2 3.2l-3.2-3.2zM1381.0 400.8l3.2 3.2l-3.2 3.2l-3.2-3.2zM1375.4 399.9l3.2 3.2l-3.2 3.2l-3.2-3.2zM1394.3 396.4l3.2 3.2l-3.2 3.2l-3.2-3.2zM1384.3 402.0l3.2 3.2l-3.2 3.2l-3.2-3.2zM1389.6 404.6l3.2 3.2l-3.2 3.2l-3.2-3.2zM1380.1 401.0l3.2 3.2l-3.2 3.2l-3.2-3.2zM1384.8 406.0l3.2 3.2l-3.2 3.2l-3.2-3.2zM1381.3 406.9l3.2 3.2l-3.2 3.2l-3.2-3.2zM1376.1 408.5l3.2 3.2l-3.2 3.2l-3.2-3.2zM1385.9 409.3l3.2 3.2l-3.2 3.2l-3.2-3.2zM1381.0 412.5l3.2 3.2l-3.2 3.2l-3.2-3.2zM1389.0 409.9l3.2 3.2l-3.2 3.2l-3.2-3.2zM1393.6 409.2l3.2 3.2l-3.2 3.2l-3.2-3.2zM1385.3 414.5l3.2 3.2l-3.2 3.2l-3.2-3.2zM1379.8 413.6l3.2 3.2l-3.2 3.2l-3.2-3.2zM1384.7 419.5l3.2 3.2l-3.2 3.2l-3.2-3.2zM1385.8 424.9l3.2 3.2l-3.2 3.2l-3.2-3.2zM1380.9 425.7l3.2 3.2l-3.2 3.2l-3.2-3.2zM1394.0 423.0l3.2 3.2l-3.2 3.2l-3.2-3.2zM1384.4 429.5l3.2 3.2l-3.2 3.2l-3.2-3.2zM1388.9 428.2l3.2 3.2l-3.2 3.2l-3.2-3.2zM1394.4 429.8l3.2 3.2l-3.2 3.2l-3.2-3.2zM1384.9 433.6l3.2 3.2l-3.2 3.2l-3.2-3.2zM1389.6 436.5l3.2 3.2l-3.2 3.2l-3.2-3.2zM1393.3 435.3l3.2 3.2l-3.2 3.2l-3.2-3.2zM1376.2 433.4l3.2 3.2l-3.2 3.2l-3.2-3.2zM1397.4 437.1l3.2 3.2l-3.2 3.2l-3.2-3.2zM1385.7 437.4l3.2 3.2l-3.2 3.2l-3.2-3.2zM1379.9 441.7l3.2 3.2l-3.2 3.2l-3.2-3.2zM1394.5 437.5l3.2 3.2l-3.2 3.2l-3.2-3.2zM1384.6 441.4l3.2 3.2l-3.2 3.2l-3.2-3.2zM1390.2 444.6l3.2 3.2l-3.2 3.2l-3.2-3.2zM1381.3 442.1l3.2 3.2l-3.2 3.2l-3.2-3.2zM1385.6 447.2l3.2 3.2l-3.2 3.2l-3.2-3.2zM1381.2 446.6l3.2 3.2l-3.2 3.2l-3.2-3.2zM1384.5 451.0l3.2 3.2l-3.2 3.2l-3.2-3.2zM1380.3 452.1l3.2 3.2l-3.2 3.2l-3.2-3.2zM1388.6 450.4l3.2 3.2l-3.2 3.2l-3.2-3.2zM1393.8 451.4l3.2 3.2l-3.2 3.2l-3.2-3.2zM1371.6 451.7l3.2 3.2l-3.2 3.2l-3.2-3.2zM1399.1 450.3l3.2 3.2l-3.2 3.2l-3.2-3.2zM1367.8 451.5l3.2 3.2l-3.2 3.2l-3.2-3.2zM1385.5 455.6l3.2 3.2l-3.2 3.2l-3.2-3.2zM1389.3 458.3l3.2 3.2l-3.2 3.2l-3.2-3.2zM1380.5 455.6l3.2 3.2l-3.2 3.2l-3.2-3.2zM1393.9 457.2l3.2 3.2l-3.2 3.2l-3.2-3.2zM1376.1 455.7l3.2 3.2l-3.2 3.2l-3.2-3.2zM1398.9 458.0l3.2 3.2l-3.2 3.2l-3.2-3.2zM1371.1 455.5l3.2 3.2l-3.2 3.2l-3.2-3.2zM1403.1 458.5l3.2 3.2l-3.2 3.2l-3.2-3.2zM1366.7 455.0l3.2 3.2l-3.2 3.2l-3.2-3.2zM1407.5 456.3l3.2 3.2l-3.2 3.2l-3.2-3.2zM1384.7 459.8l3.2 3.2l-3.2 3.2l-3.2-3.2zM1380.6 460.2l3.2 3.2l-3.2 3.2l-3.2-3.2zM1388.7 459.1l3.2 3.2l-3.2 3.2l-3.2-3.2zM1375.7 461.6l3.2 3.2l-3.2 3.2l-3.2-3.2zM1393.9 459.7l3.2 3.2l-3.2 3.2l-3.2-3.2zM1372.7 460.3l3.2 3.2l-3.2 3.2l-3.2-3.2zM1399.0 459.5l3.2 3.2l-3.2 3.2l-3.2-3.2zM1367.5 462.3l3.2 3.2l-3.2 3.2l-3.2-3.2zM1403.4 458.8l3.2 3.2l-3.2 3.2l-3.2-3.2zM1363.1 462.0l3.2 3.2l-3.2 3.2l-3.2-3.2zM1385.7 463.9l3.2 3.2l-3.2 3.2l-3.2-3.2zM1381.0 466.0l3.2 3.2l-3.2 3.2l-3.2-3.2zM1388.7 464.0l3.2 3.2l-3.2 3.2l-3.2-3.2zM1377.0 465.5l3.2 3.2l-3.2 3.2l-3.2-3.2zM1394.1 464.0l3.2 3.2l-3.2 3.2l-3.2-3.2zM1372.7 466.3l3.2 3.2l-3.2 3.2l-3.2-3.2zM1398.7 463.5l3.2 3.2l-3.2 3.2l-3.2-3.2zM1367.4 465.7l3.2 3.2l-3.2 3.2l-3.2-3.2zM1403.0 464.0l3.2 3.2l-3.2 3.2l-3.2-3.2zM1363.3 466.7l3.2 3.2l-3.2 3.2l-3.2-3.2zM1359.1 466.1l3.2 3.2l-3.2 3.2l-3.2-3.2zM1412.1 464.9l3.2 3.2l-3.2 3.2l-3.2-3.2zM1353.7 465.7l3.2 3.2l-3.2 3.2l-3.2-3.2zM1415.1 463.5l3.2 3.2l-3.2 3.2l-3.2-3.2zM1385.7 467.2l3.2 3.2l-3.2 3.2l-3.2-3.2zM1379.9 470.8l3.2 3.2l-3.2 3.2l-3.2-3.2zM1389.1 467.3l3.2 3.2l-3.2 3.2l-3.2-3.2zM1375.9 470.0l3.2 3.2l-3.2 3.2l-3.2-3.2zM1394.0 467.7l3.2 3.2l-3.2 3.2l-3.2-3.2zM1371.1 470.5l3.2 3.2l-3.2 3.2l-3.2-3.2zM1398.9 467.3l3.2 3.2l-3.2 3.2l-3.2-3.2zM1367.2 470.7l3.2 3.2l-3.2 3.2l-3.2-3.2zM1402.9 467.5l3.2 3.2l-3.2 3.2l-3.2-3.2zM1363.5 470.6l3.2 3.2l-3.2 3.2l-3.2-3.2zM1406.3 468.0l3.2 3.2l-3.2 3.2l-3.2-3.2zM1358.9 470.7l3.2 3.2l-3.2 3.2l-3.2-3.2zM1411.6 468.8l3.2 3.2l-3.2 3.2l-3.2-3.2zM1353.5 471.4l3.2 3.2l-3.2 3.2l-3.2-3.2zM1416.2 468.4l3.2 3.2l-3.2 3.2l-3.2-3.2zM1349.7 470.9l3.2 3.2l-3.2 3.2l-3.2-3.2zM1385.1 472.4l3.2 3.2l-3.2 3.2l-3.2-3.2zM1380.2 473.9l3.2 3.2l-3.2 3.2l-3.2-3.2zM1376.6 474.3l3.2 3.2l-3.2 3.2l-3.2-3.2zM1393.7 472.5l3.2 3.2l-3.2 3.2l-3.2-3.2zM1372.7 474.1l3.2 3.2l-3.2 3.2l-3.2-3.2zM1398.3 472.5l3.2 3.2l-3.2 3.2l-3.2-3.2zM1367.5 474.5l3.2 3.2l-3.2 3.2l-3.2-3.2zM1401.9 473.2l3.2 3.2l-3.2 3.2l-3.2-3.2zM1363.1 475.7l3.2 3.2l-3.2 3.2l-3.2-3.2zM1406.8 473.4l3.2 3.2l-3.2 3.2l-3.2-3.2zM1358.4 475.1l3.2 3.2l-3.2 3.2l-3.2-3.2zM1411.1 473.2l3.2 3.2l-3.2 3.2l-3.2-3.2zM1354.9 475.1l3.2 3.2l-3.2 3.2l-3.2-3.2zM1385.5 475.8l3.2 3.2l-3.2 3.2l-3.2-3.2zM1380.5 479.3l3.2 3.2l-3.2 3.2l-3.2-3.2zM1389.4 476.1l3.2 3.2l-3.2 3.2l-3.2-3.2zM1377.0 479.3l3.2 3.2l-3.2 3.2l-3.2-3.2zM1394.0 477.9l3.2 3.2l-3.2 3.2l-3.2-3.2zM1398.3 476.6l3.2 3.2l-3.2 3.2l-3.2-3.2zM1367.8 479.7l3.2 3.2l-3.2 3.2l-3.2-3.2zM1403.4 476.6l3.2 3.2l-3.2 3.2l-3.2-3.2zM1363.6 479.4l3.2 3.2l-3.2 3.2l-3.2-3.2zM1407.5 476.3l3.2 3.2l-3.2 3.2l-3.2-3.2zM1357.8 478.0l3.2 3.2l-3.2 3.2l-3.2-3.2zM1385.6 480.3l3.2 3.2l-3.2 3.2l-3.2-3.2zM1389.3 482.5l3.2 3.2l-3.2 3.2l-3.2-3.2zM1379.8 480.9l3.2 3.2l-3.2 3.2l-3.2-3.2zM1393.6 483.7l3.2 3.2l-3.2 3.2l-3.2-3.2zM1375.8 480.7l3.2 3.2l-3.2 3.2l-3.2-3.2zM1397.6 483.9l3.2 3.2l-3.2 3.2l-3.2-3.2zM1402.0 483.6l3.2 3.2l-3.2 3.2l-3.2-3.2zM1368.0 480.5l3.2 3.2l-3.2 3.2l-3.2-3.2zM1407.4 482.3l3.2 3.2l-3.2 3.2l-3.2-3.2zM1384.5 486.4l3.2 3.2l-3.2 3.2l-3.2-3.2zM1389.6 486.8l3.2 3.2l-3.2 3.2l-3.2-3.2zM1381.0 484.8l3.2 3.2l-3.2 3.2l-3.2-3.2zM1394.6 487.7l3.2 3.2l-3.2 3.2l-3.2-3.2zM1376.8 485.0l3.2 3.2l-3.2 3.2l-3.2-3.2zM1398.5 486.5l3.2 3.2l-3.2 3.2l-3.2-3.2zM1371.0 484.1l3.2 3.2l-3.2 3.2l-3.2-3.2zM1401.8 486.2l3.2 3.2l-3.2 3.2l-3.2-3.2zM1368.3 483.9l3.2 3.2l-3.2 3.2l-3.2-3.2zM1384.6 488.0l3.2 3.2l-3.2 3.2l-3.2-3.2zM1380.2 491.7l3.2 3.2l-3.2 3.2l-3.2-3.2zM1389.1 489.7l3.2 3.2l-3.2 3.2l-3.2-3.2zM1376.6 491.8l3.2 3.2l-3.2 3.2l-3.2-3.2zM1394.6 489.0l3.2 3.2l-3.2 3.2l-3.2-3.2zM1372.3 491.2l3.2 3.2l-3.2 3.2l-3.2-3.2zM1398.6 489.2l3.2 3.2l-3.2 3.2l-3.2-3.2zM1367.4 491.9l3.2 3.2l-3.2 3.2l-3.2-3.2zM1402.5 488.3l3.2 3.2l-3.2 3.2l-3.2-3.2zM1385.5 494.5l3.2 3.2l-3.2 3.2l-3.2-3.2zM1390.1 494.7l3.2 3.2l-3.2 3.2l-3.2-3.2zM1375.7 496.4l3.2 3.2l-3.2 3.2l-3.2-3.2zM1393.5 493.2l3.2 3.2l-3.2 3.2l-3.2-3.2zM1372.1 496.5l3.2 3.2l-3.2 3.2l-3.2-3.2zM1399.1 492.9l3.2 3.2l-3.2 3.2l-3.2-3.2zM1368.0 495.7l3.2 3.2l-3.2 3.2l-3.2-3.2zM1402.3 494.7l3.2 3.2l-3.2 3.2l-3.2-3.2zM1363.2 496.8l3.2 3.2l-3.2 3.2l-3.2-3.2zM1385.7 497.7l3.2 3.2l-3.2 3.2l-3.2-3.2zM1390.0 500.8l3.2 3.2l-3.2 3.2l-3.2-3.2zM1381.3 499.1l3.2 3.2l-3.2 3.2l-3.2-3.2zM1393.1 501.4l3.2 3.2l-3.2 3.2l-3.2-3.2zM1375.7 499.3l3.2 3.2l-3.2 3.2l-3.2-3.2zM1397.4 501.6l3.2 3.2l-3.2 3.2l-3.2-3.2zM1371.9 498.2l3.2 3.2l-3.2 3.2l-3.2-3.2zM1402.8 501.4l3.2 3.2l-3.2 3.2l-3.2-3.2zM1367.1 499.9l3.2 3.2l-3.2 3.2l-3.2-3.2zM1406.4 500.2l3.2 3.2l-3.2 3.2l-3.2-3.2zM1363.9 499.2l3.2 3.2l-3.2 3.2l-3.2-3.2zM1385.7 504.3l3.2 3.2l-3.2 3.2l-3.2-3.2zM1380.4 506.3l3.2 3.2l-3.2 3.2l-3.2-3.2zM1390.2 502.5l3.2 3.2l-3.2 3.2l-3.2-3.2zM1375.8 505.6l3.2 3.2l-3.2 3.2l-3.2-3.2zM1394.2 502.5l3.2 3.2l-3.2 3.2l-3.2-3.2zM1372.2 505.5l3.2 3.2l-3.2 3.2l-3.2-3.2zM1397.8 503.1l3.2 3.2l-3.2 3.2l-3.2-3.2zM1367.9 504.7l3.2 3.2l-3.2 3.2l-3.2-3.2zM1403.3 503.5l3.2 3.2l-3.2 3.2l-3.2-3.2zM1362.9 505.1l3.2 3.2l-3.2 3.2l-3.2-3.2zM1407.6 503.2l3.2 3.2l-3.2 3.2l-3.2-3.2zM1359.2 506.4l3.2 3.2l-3.2 3.2l-3.2-3.2zM1385.2 506.8l3.2 3.2l-3.2 3.2l-3.2-3.2zM1379.7 510.0l3.2 3.2l-3.2 3.2l-3.2-3.2zM1390.2 506.9l3.2 3.2l-3.2 3.2l-3.2-3.2zM1375.7 510.0l3.2 3.2l-3.2 3.2l-3.2-3.2zM1394.0 507.5l3.2 3.2l-3.2 3.2l-3.2-3.2zM1372.1 509.5l3.2 3.2l-3.2 3.2l-3.2-3.2zM1397.4 507.0l3.2 3.2l-3.2 3.2l-3.2-3.2zM1402.7 508.5l3.2 3.2l-3.2 3.2l-3.2-3.2zM1362.8 510.9l3.2 3.2l-3.2 3.2l-3.2-3.2zM1406.1 507.2l3.2 3.2l-3.2 3.2l-3.2-3.2zM1384.9 511.5l3.2 3.2l-3.2 3.2l-3.2-3.2zM1380.8 514.9l3.2 3.2l-3.2 3.2l-3.2-3.2zM1388.8 510.8l3.2 3.2l-3.2 3.2l-3.2-3.2zM1376.0 514.6l3.2 3.2l-3.2 3.2l-3.2-3.2zM1393.7 511.9l3.2 3.2l-3.2 3.2l-3.2-3.2zM1371.8 513.0l3.2 3.2l-3.2 3.2l-3.2-3.2zM1399.0 511.4l3.2 3.2l-3.2 3.2l-3.2-3.2zM1367.5 513.2l3.2 3.2l-3.2 3.2l-3.2-3.2zM1403.3 512.0l3.2 3.2l-3.2 3.2l-3.2-3.2zM1363.0 513.8l3.2 3.2l-3.2 3.2l-3.2-3.2zM1406.5 510.9l3.2 3.2l-3.2 3.2l-3.2-3.2zM1359.2 513.1l3.2 3.2l-3.2 3.2l-3.2-3.2zM1412.2 512.4l3.2 3.2l-3.2 3.2l-3.2-3.2zM1384.8 516.1l3.2 3.2l-3.2 3.2l-3.2-3.2zM1381.0 518.7l3.2 3.2l-3.2 3.2l-3.2-3.2zM1388.7 516.3l3.2 3.2l-3.2 3.2l-3.2-3.2zM1377.1 519.2l3.2 3.2l-3.2 3.2l-3.2-3.2zM1393.7 516.4l3.2 3.2l-3.2 3.2l-3.2-3.2zM1371.8 517.5l3.2 3.2l-3.2 3.2l-3.2-3.2zM1398.5 516.4l3.2 3.2l-3.2 3.2l-3.2-3.2zM1367.2 517.0l3.2 3.2l-3.2 3.2l-3.2-3.2zM1402.9 515.1l3.2 3.2l-3.2 3.2l-3.2-3.2zM1362.4 517.5l3.2 3.2l-3.2 3.2l-3.2-3.2zM1406.4 515.0l3.2 3.2l-3.2 3.2l-3.2-3.2zM1411.2 515.8l3.2 3.2l-3.2 3.2l-3.2-3.2zM1353.3 518.8l3.2 3.2l-3.2 3.2l-3.2-3.2zM1385.8 519.9l3.2 3.2l-3.2 3.2l-3.2-3.2zM1379.7 522.2l3.2 3.2l-3.2 3.2l-3.2-3.2zM1389.5 519.9l3.2 3.2l-3.2 3.2l-3.2-3.2zM1376.3 522.1l3.2 3.2l-3.2 3.2l-3.2-3.2zM1394.6 520.3l3.2 3.2l-3.2 3.2l-3.2-3.2zM1372.4 522.4l3.2 3.2l-3.2 3.2l-3.2-3.2zM1397.4 519.6l3.2 3.2l-3.2 3.2l-3.2-3.2zM1366.7 522.6l3.2 3.2l-3.2 3.2l-3.2-3.2zM1363.3 523.4l3.2 3.2l-3.2 3.2l-3.2-3.2zM1407.1 518.7l3.2 3.2l-3.2 3.2l-3.2-3.2zM1358.3 521.8l3.2 3.2l-3.2 3.2l-3.2-3.2zM1411.1 519.7l3.2 3.2l-3.2 3.2l-3.2-3.2zM1384.6 524.3l3.2 3.2l-3.2 3.2l-3.2-3.2zM1380.6 525.8l3.2 3.2l-3.2 3.2l-3.2-3.2zM1389.0 524.8l3.2 3.2l-3.2 3.2l-3.2-3.2zM1376.3 526.6l3.2 3.2l-3.2 3.2l-3.2-3.2zM1393.7 523.6l3.2 3.2l-3.2 3.2l-3.2-3.2zM1372.4 526.0l3.2 3.2l-3.2 3.2l-3.2-3.2zM1398.0 525.5l3.2 3.2l-3.2 3.2l-3.2-3.2zM1367.5 526.1l3.2 3.2l-3.2 3.2l-3.2-3.2zM1403.0 525.0l3.2 3.2l-3.2 3.2l-3.2-3.2zM1362.8 526.4l3.2 3.2l-3.2 3.2l-3.2-3.2zM1407.2 524.7l3.2 3.2l-3.2 3.2l-3.2-3.2zM1358.8 526.1l3.2 3.2l-3.2 3.2l-3.2-3.2zM1411.0 524.6l3.2 3.2l-3.2 3.2l-3.2-3.2zM1416.2 523.7l3.2 3.2l-3.2 3.2l-3.2-3.2zM1385.7 528.3l3.2 3.2l-3.2 3.2l-3.2-3.2zM1389.0 532.1l3.2 3.2l-3.2 3.2l-3.2-3.2zM1379.9 528.8l3.2 3.2l-3.2 3.2l-3.2-3.2zM1375.6 530.4l3.2 3.2l-3.2 3.2l-3.2-3.2zM1398.1 531.4l3.2 3.2l-3.2 3.2l-3.2-3.2zM1371.1 528.8l3.2 3.2l-3.2 3.2l-3.2-3.2zM1402.5 531.1l3.2 3.2l-3.2 3.2l-3.2-3.2zM1366.5 527.7l3.2 3.2l-3.2 3.2l-3.2-3.2zM1407.6 532.1l3.2 3.2l-3.2 3.2l-3.2-3.2zM1363.7 529.4l3.2 3.2l-3.2 3.2l-3.2-3.2zM1411.7 530.7l3.2 3.2l-3.2 3.2l-3.2-3.2zM1385.6 533.1l3.2 3.2l-3.2 3.2l-3.2-3.2zM1389.1 536.9l3.2 3.2l-3.2 3.2l-3.2-3.2zM1380.7 533.0l3.2 3.2l-3.2 3.2l-3.2-3.2zM1393.6 536.8l3.2 3.2l-3.2 3.2l-3.2-3.2zM1376.4 535.0l3.2 3.2l-3.2 3.2l-3.2-3.2zM1398.6 536.5l3.2 3.2l-3.2 3.2l-3.2-3.2zM1372.4 533.9l3.2 3.2l-3.2 3.2l-3.2-3.2zM1403.4 535.9l3.2 3.2l-3.2 3.2l-3.2-3.2zM1367.9 533.3l3.2 3.2l-3.2 3.2l-3.2-3.2zM1407.3 536.8l3.2 3.2l-3.2 3.2l-3.2-3.2zM1362.5 534.3l3.2 3.2l-3.2 3.2l-3.2-3.2zM1412.2 535.6l3.2 3.2l-3.2 3.2l-3.2-3.2zM1358.0 534.2l3.2 3.2l-3.2 3.2l-3.2-3.2zM1416.4 536.0l3.2 3.2l-3.2 3.2l-3.2-3.2zM1385.1 537.8l3.2 3.2l-3.2 3.2l-3.2-3.2zM1388.6 540.8l3.2 3.2l-3.2 3.2l-3.2-3.2zM1380.7 537.8l3.2 3.2l-3.2 3.2l-3.2-3.2zM1393.3 541.6l3.2 3.2l-3.2 3.2l-3.2-3.2zM1377.1 537.4l3.2 3.2l-3.2 3.2l-3.2-3.2zM1397.9 540.6l3.2 3.2l-3.2 3.2l-3.2-3.2zM1371.9 537.6l3.2 3.2l-3.2 3.2l-3.2-3.2zM1403.3 540.8l3.2 3.2l-3.2 3.2l-3.2-3.2zM1368.0 538.5l3.2 3.2l-3.2 3.2l-3.2-3.2zM1407.1 540.6l3.2 3.2l-3.2 3.2l-3.2-3.2zM1363.1 538.4l3.2 3.2l-3.2 3.2l-3.2-3.2zM1385.1 542.6l3.2 3.2l-3.2 3.2l-3.2-3.2zM1380.0 545.5l3.2 3.2l-3.2 3.2l-3.2-3.2zM1389.8 544.4l3.2 3.2l-3.2 3.2l-3.2-3.2zM1376.2 546.0l3.2 3.2l-3.2 3.2l-3.2-3.2zM1393.9 544.1l3.2 3.2l-3.2 3.2l-3.2-3.2zM1372.2 546.3l3.2 3.2l-3.2 3.2l-3.2-3.2zM1398.3 542.5l3.2 3.2l-3.2 3.2l-3.2-3.2zM1367.1 545.7l3.2 3.2l-3.2 3.2l-3.2-3.2zM1402.1 543.7l3.2 3.2l-3.2 3.2l-3.2-3.2zM1362.8 544.7l3.2 3.2l-3.2 3.2l-3.2-3.2zM1406.6 543.9l3.2 3.2l-3.2 3.2l-3.2-3.2zM1358.1 546.7l3.2 3.2l-3.2 3.2l-3.2-3.2zM1385.4 546.2l3.2 3.2l-3.2 3.2l-3.2-3.2zM1381.5 549.4l3.2 3.2l-3.2 3.2l-3.2-3.2zM1389.7 546.5l3.2 3.2l-3.2 3.2l-3.2-3.2zM1376.9 549.7l3.2 3.2l-3.2 3.2l-3.2-3.2zM1393.7 547.7l3.2 3.2l-3.2 3.2l-3.2-3.2zM1372.0 549.6l3.2 3.2l-3.2 3.2l-3.2-3.2zM1398.5 547.6l3.2 3.2l-3.2 3.2l-3.2-3.2zM1368.2 550.2l3.2 3.2l-3.2 3.2l-3.2-3.2zM1401.8 546.9l3.2 3.2l-3.2 3.2l-3.2-3.2zM1362.5 550.9l3.2 3.2l-3.2 3.2l-3.2-3.2zM1384.3 551.2l3.2 3.2l-3.2 3.2l-3.2-3.2zM1389.0 554.6l3.2 3.2l-3.2 3.2l-3.2-3.2zM1379.9 552.3l3.2 3.2l-3.2 3.2l-3.2-3.2zM1394.2 554.0l3.2 3.2l-3.2 3.2l-3.2-3.2zM1375.6 551.1l3.2 3.2l-3.2 3.2l-3.2-3.2zM1398.0 553.5l3.2 3.2l-3.2 3.2l-3.2-3.2zM1402.4 554.7l3.2 3.2l-3.2 3.2l-3.2-3.2zM1407.8 553.2l3.2 3.2l-3.2 3.2l-3.2-3.2zM1362.5 551.1l3.2 3.2l-3.2 3.2l-3.2-3.2zM1384.7 554.6l3.2 3.2l-3.2 3.2l-3.2-3.2zM1389.0 557.8l3.2 3.2l-3.2 3.2l-3.2-3.2zM1375.8 555.7l3.2 3.2l-3.2 3.2l-3.2-3.2zM1398.6 558.0l3.2 3.2l-3.2 3.2l-3.2-3.2zM1371.0 555.0l3.2 3.2l-3.2 3.2l-3.2-3.2zM1403.4 556.9l3.2 3.2l-3.2 3.2l-3.2-3.2zM1385.0 559.3l3.2 3.2l-3.2 3.2l-3.2-3.2zM1388.6 561.8l3.2 3.2l-3.2 3.2l-3.2-3.2zM1392.9 562.8l3.2 3.2l-3.2 3.2l-3.2-3.2zM1398.2 561.4l3.2 3.2l-3.2 3.2l-3.2-3.2zM1402.6 562.3l3.2 3.2l-3.2 3.2l-3.2-3.2zM1385.3 564.2l3.2 3.2l-3.2 3.2l-3.2-3.2zM1388.8 566.7l3.2 3.2l-3.2 3.2l-3.2-3.2zM1380.0 564.4l3.2 3.2l-3.2 3.2l-3.2-3.2zM1394.4 567.2l3.2 3.2l-3.2 3.2l-3.2-3.2zM1384.9 569.3l3.2 3.2l-3.2 3.2l-3.2-3.2zM1389.3 571.2l3.2 3.2l-3.2 3.2l-3.2-3.2zM1381.0 569.2l3.2 3.2l-3.2 3.2l-3.2-3.2zM1393.5 570.8l3.2 3.2l-3.2 3.2l-3.2-3.2zM1376.2 569.2l3.2 3.2l-3.2 3.2l-3.2-3.2zM1384.2 573.4l3.2 3.2l-3.2 3.2l-3.2-3.2zM1380.9 574.8l3.2 3.2l-3.2 3.2l-3.2-3.2zM1389.3 572.8l3.2 3.2l-3.2 3.2l-3.2-3.2zM1376.0 575.6l3.2 3.2l-3.2 3.2l-3.2-3.2zM1393.6 573.6l3.2 3.2l-3.2 3.2l-3.2-3.2zM1385.3 577.9l3.2 3.2l-3.2 3.2l-3.2-3.2zM1389.4 579.5l3.2 3.2l-3.2 3.2l-3.2-3.2zM1380.1 577.2l3.2 3.2l-3.2 3.2l-3.2-3.2zM1394.5 580.2l3.2 3.2l-3.2 3.2l-3.2-3.2zM1384.3 581.7l3.2 3.2l-3.2 3.2l-3.2-3.2zM1380.8 583.7l3.2 3.2l-3.2 3.2l-3.2-3.2zM1390.1 582.1l3.2 3.2l-3.2 3.2l-3.2-3.2zM1376.8 582.7l3.2 3.2l-3.2 3.2l-3.2-3.2zM1394.6 581.5l3.2 3.2l-3.2 3.2l-3.2-3.2zM1371.5 583.7l3.2 3.2l-3.2 3.2l-3.2-3.2zM1384.5 586.7l3.2 3.2l-3.2 3.2l-3.2-3.2zM1390.1 588.1l3.2 3.2l-3.2 3.2l-3.2-3.2zM1380.7 585.4l3.2 3.2l-3.2 3.2l-3.2-3.2zM1393.4 587.8l3.2 3.2l-3.2 3.2l-3.2-3.2zM1384.6 589.2l3.2 3.2l-3.2 3.2l-3.2-3.2zM1381.4 591.8l3.2 3.2l-3.2 3.2l-3.2-3.2zM1384.2 595.7l3.2 3.2l-3.2 3.2l-3.2-3.2zM1381.4 597.0l3.2 3.2l-3.2 3.2l-3.2-3.2zM1389.7 594.4l3.2 3.2l-3.2 3.2l-3.2-3.2zM1375.9 598.1l3.2 3.2l-3.2 3.2l-3.2-3.2z" fill="#ff9300" stroke="#fff" stroke-width="0.25" stroke-opacity="0.5"/>
<path d="M1489.0 268.0l3.2 3.2l-3.2 3.2l-3.2-3.2zM1489.0 305.4l3.2 3.2l-3.2 3.2l-3.2-3.2zM1489.0 356.1l3.2 3.2l-3.2 3.2l-3.2-3.2zM1493.0 363.6l3.2 3.2l-3.2 3.2l-3.2-3.2zM1497.0 364.8l3.2 3.2l-3.2 3.2l-3.2-3.2zM1485.0 368.8l3.2 3.2l-3.2 3.2l-3.2-3.2zM1485.0 381.7l3.2 3.2l-3.2 3.2l-3.2-3.2zM1493.0 381.7l3.2 3.2l-3.2 3.2l-3.2-3.2zM1492.0 388.1l3.2 3.2l-3.2 3.2l-3.2-3.2zM1481.0 395.6l3.2 3.2l-3.2 3.2l-3.2-3.2zM1497.0 395.6l3.2 3.2l-3.2 3.2l-3.2-3.2zM1481.0 405.5l3.2 3.2l-3.2 3.2l-3.2-3.2zM1489.0 406.8l3.2 3.2l-3.2 3.2l-3.2-3.2zM1497.0 402.8l3.2 3.2l-3.2 3.2l-3.2-3.2zM1497.0 410.8l3.2 3.2l-3.2 3.2l-3.2-3.2zM1488.3 413.2l3.2 3.2l-3.2 3.2l-3.2-3.2zM1483.8 414.7l3.2 3.2l-3.2 3.2l-3.2-3.2zM1488.5 417.7l3.2 3.2l-3.2 3.2l-3.2-3.2zM1493.9 421.2l3.2 3.2l-3.2 3.2l-3.2-3.2zM1489.6 421.5l3.2 3.2l-3.2 3.2l-3.2-3.2zM1493.0 422.1l3.2 3.2l-3.2 3.2l-3.2-3.2zM1480.8 425.8l3.2 3.2l-3.2 3.2l-3.2-3.2zM1488.8 425.6l3.2 3.2l-3.2 3.2l-3.2-3.2zM1484.2 427.9l3.2 3.2l-3.2 3.2l-3.2-3.2zM1493.6 426.1l3.2 3.2l-3.2 3.2l-3.2-3.2zM1498.7 425.9l3.2 3.2l-3.2 3.2l-3.2-3.2zM1488.4 429.7l3.2 3.2l-3.2 3.2l-3.2-3.2zM1484.1 432.7l3.2 3.2l-3.2 3.2l-3.2-3.2zM1480.3 432.3l3.2 3.2l-3.2 3.2l-3.2-3.2zM1488.2 435.0l3.2 3.2l-3.2 3.2l-3.2-3.2zM1493.8 438.3l3.2 3.2l-3.2 3.2l-3.2-3.2zM1485.4 435.0l3.2 3.2l-3.2 3.2l-3.2-3.2zM1488.2 438.9l3.2 3.2l-3.2 3.2l-3.2-3.2zM1484.2 441.8l3.2 3.2l-3.2 3.2l-3.2-3.2zM1493.2 439.8l3.2 3.2l-3.2 3.2l-3.2-3.2zM1481.1 441.8l3.2 3.2l-3.2 3.2l-3.2-3.2zM1488.2 443.1l3.2 3.2l-3.2 3.2l-3.2-3.2zM1480.2 444.6l3.2 3.2l-3.2 3.2l-3.2-3.2zM1488.8 447.7l3.2 3.2l-3.2 3.2l-3.2-3.2zM1493.2 449.3l3.2 3.2l-3.2 3.2l-3.2-3.2zM1488.4 451.1l3.2 3.2l-3.2 3.2l-3.2-3.2zM1489.7 455.7l3.2 3.2l-3.2 3.2l-3.2-3.2zM1489.0 459.9l3.2 3.2l-3.2 3.2l-3.2-3.2zM1479.9 463.6l3.2 3.2l-3.2 3.2l-3.2-3.2zM1498.4 459.7l3.2 3.2l-3.2 3.2l-3.2-3.2zM1475.4 462.9l3.2 3.2l-3.2 3.2l-3.2-3.2zM1489.3 464.7l3.2 3.2l-3.2 3.2l-3.2-3.2zM1484.9 466.0l3.2 3.2l-3.2 3.2l-3.2-3.2zM1480.6 464.6l3.2 3.2l-3.2 3.2l-3.2-3.2zM1503.0 465.9l3.2 3.2l-3.2 3.2l-3.2-3.2zM1488.5 468.8l3.2 3.2l-3.2 3.2l-3.2-3.2zM1485.2 470.0l3.2 3.2l-3.2 3.2l-3.2-3.2zM1497.7 472.8l3.2 3.2l-3.2 3.2l-3.2-3.2zM1501.8 471.3l3.2 3.2l-3.2 3.2l-3.2-3.2zM1476.5 469.3l3.2 3.2l-3.2 3.2l-3.2-3.2zM1505.8 471.2l3.2 3.2l-3.2 3.2l-3.2-3.2zM1488.5 473.4l3.2 3.2l-3.2 3.2l-3.2-3.2zM1492.7 476.5l3.2 3.2l-3.2 3.2l-3.2-3.2zM1484.5 473.6l3.2 3.2l-3.2 3.2l-3.2-3.2zM1498.5 476.2l3.2 3.2l-3.2 3.2l-3.2-3.2zM1480.1 474.9l3.2 3.2l-3.2 3.2l-3.2-3.2zM1501.6 476.6l3.2 3.2l-3.2 3.2l-3.2-3.2zM1475.9 473.9l3.2 3.2l-3.2 3.2l-3.2-3.2zM1506.3 476.0l3.2 3.2l-3.2 3.2l-3.2-3.2zM1471.4 474.5l3.2 3.2l-3.2 3.2l-3.2-3.2zM1488.4 477.7l3.2 3.2l-3.2 3.2l-3.2-3.2zM1494.1 478.8l3.2 3.2l-3.2 3.2l-3.2-3.2zM1484.7 477.7l3.2 3.2l-3.2 3.2l-3.2-3.2zM1498.0 480.1l3.2 3.2l-3.2 3.2l-3.2-3.2zM1481.1 478.3l3.2 3.2l-3.2 3.2l-3.2-3.2zM1502.5 480.3l3.2 3.2l-3.2 3.2l-3.2-3.2zM1475.3 478.8l3.2 3.2l-3.2 3.2l-3.2-3.2zM1505.8 481.1l3.2 3.2l-3.2 3.2l-3.2-3.2zM1489.7 481.8l3.2 3.2l-3.2 3.2l-3.2-3.2zM1492.7 485.0l3.2 3.2l-3.2 3.2l-3.2-3.2zM1484.0 481.1l3.2 3.2l-3.2 3.2l-3.2-3.2zM1497.0 485.6l3.2 3.2l-3.2 3.2l-3.2-3.2zM1480.2 480.9l3.2 3.2l-3.2 3.2l-3.2-3.2zM1502.5 484.6l3.2 3.2l-3.2 3.2l-3.2-3.2zM1475.3 482.5l3.2 3.2l-3.2 3.2l-3.2-3.2zM1507.0 484.0l3.2 3.2l-3.2 3.2l-3.2-3.2zM1488.8 485.7l3.2 3.2l-3.2 3.2l-3.2-3.2zM1483.7 488.4l3.2 3.2l-3.2 3.2l-3.2-3.2zM1493.6 486.7l3.2 3.2l-3.2 3.2l-3.2-3.2zM1479.6 489.7l3.2 3.2l-3.2 3.2l-3.2-3.2zM1476.0 490.2l3.2 3.2l-3.2 3.2l-3.2-3.2zM1501.7 486.6l3.2 3.2l-3.2 3.2l-3.2-3.2zM1470.8 489.8l3.2 3.2l-3.2 3.2l-3.2-3.2zM1506.0 487.4l3.2 3.2l-3.2 3.2l-3.2-3.2zM1467.8 489.2l3.2 3.2l-3.2 3.2l-3.2-3.2zM1489.8 489.5l3.2 3.2l-3.2 3.2l-3.2-3.2zM1493.7 493.0l3.2 3.2l-3.2 3.2l-3.2-3.2zM1484.0 489.6l3.2 3.2l-3.2 3.2l-3.2-3.2zM1497.0 492.5l3.2 3.2l-3.2 3.2l-3.2-3.2zM1479.6 491.6l3.2 3.2l-3.2 3.2l-3.2-3.2zM1502.2 492.0l3.2 3.2l-3.2 3.2l-3.2-3.2zM1475.8 491.4l3.2 3.2l-3.2 3.2l-3.2-3.2zM1506.0 492.3l3.2 3.2l-3.2 3.2l-3.2-3.2zM1510.6 492.7l3.2 3.2l-3.2 3.2l-3.2-3.2zM1488.5 494.9l3.2 3.2l-3.2 3.2l-3.2-3.2zM1492.8 497.6l3.2 3.2l-3.2 3.2l-3.2-3.2zM1485.4 494.5l3.2 3.2l-3.2 3.2l-3.2-3.2zM1498.4 497.7l3.2 3.2l-3.2 3.2l-3.2-3.2zM1480.9 495.6l3.2 3.2l-3.2 3.2l-3.2-3.2zM1502.4 498.1l3.2 3.2l-3.2 3.2l-3.2-3.2zM1506.9 497.5l3.2 3.2l-3.2 3.2l-3.2-3.2zM1489.7 499.6l3.2 3.2l-3.2 3.2l-3.2-3.2zM1485.0 502.0l3.2 3.2l-3.2 3.2l-3.2-3.2zM1493.1 499.6l3.2 3.2l-3.2 3.2l-3.2-3.2zM1480.3 501.5l3.2 3.2l-3.2 3.2l-3.2-3.2zM1497.0 498.7l3.2 3.2l-3.2 3.2l-3.2-3.2zM1475.1 502.1l3.2 3.2l-3.2 3.2l-3.2-3.2zM1501.3 498.4l3.2 3.2l-3.2 3.2l-3.2-3.2zM1470.5 501.6l3.2 3.2l-3.2 3.2l-3.2-3.2zM1506.0 499.5l3.2 3.2l-3.2 3.2l-3.2-3.2zM1488.8 502.1l3.2 3.2l-3.2 3.2l-3.2-3.2zM1485.5 504.5l3.2 3.2l-3.2 3.2l-3.2-3.2zM1493.7 502.0l3.2 3.2l-3.2 3.2l-3.2-3.2zM1479.6 505.5l3.2 3.2l-3.2 3.2l-3.2-3.2zM1476.3 505.5l3.2 3.2l-3.2 3.2l-3.2-3.2zM1501.9 503.2l3.2 3.2l-3.2 3.2l-3.2-3.2zM1470.6 504.9l3.2 3.2l-3.2 3.2l-3.2-3.2zM1505.9 503.8l3.2 3.2l-3.2 3.2l-3.2-3.2zM1466.4 505.4l3.2 3.2l-3.2 3.2l-3.2-3.2zM1489.3 506.5l3.2 3.2l-3.2 3.2l-3.2-3.2zM1484.7 508.4l3.2 3.2l-3.2 3.2l-3.2-3.2zM1492.7 507.2l3.2 3.2l-3.2 3.2l-3.2-3.2zM1480.3 509.3l3.2 3.2l-3.2 3.2l-3.2-3.2zM1498.7 506.5l3.2 3.2l-3.2 3.2l-3.2-3.2zM1476.3 509.7l3.2 3.2l-3.2 3.2l-3.2-3.2zM1502.4 507.0l3.2 3.2l-3.2 3.2l-3.2-3.2zM1472.3 509.9l3.2 3.2l-3.2 3.2l-3.2-3.2zM1489.8 510.4l3.2 3.2l-3.2 3.2l-3.2-3.2zM1494.2 512.6l3.2 3.2l-3.2 3.2l-3.2-3.2zM1485.1 510.9l3.2 3.2l-3.2 3.2l-3.2-3.2zM1497.5 512.9l3.2 3.2l-3.2 3.2l-3.2-3.2zM1481.0 509.7l3.2 3.2l-3.2 3.2l-3.2-3.2zM1502.0 512.2l3.2 3.2l-3.2 3.2l-3.2-3.2zM1475.6 510.0l3.2 3.2l-3.2 3.2l-3.2-3.2zM1507.5 511.7l3.2 3.2l-3.2 3.2l-3.2-3.2zM1470.7 509.5l3.2 3.2l-3.2 3.2l-3.2-3.2zM1488.2 513.6l3.2 3.2l-3.2 3.2l-3.2-3.2zM1484.0 516.8l3.2 3.2l-3.2 3.2l-3.2-3.2zM1493.3 514.1l3.2 3.2l-3.2 3.2l-3.2-3.2zM1480.6 516.4l3.2 3.2l-3.2 3.2l-3.2-3.2zM1497.9 514.5l3.2 3.2l-3.2 3.2l-3.2-3.2zM1475.8 517.4l3.2 3.2l-3.2 3.2l-3.2-3.2zM1502.4 514.3l3.2 3.2l-3.2 3.2l-3.2-3.2zM1471.9 515.9l3.2 3.2l-3.2 3.2l-3.2-3.2zM1506.2 514.4l3.2 3.2l-3.2 3.2l-3.2-3.2zM1466.4 516.6l3.2 3.2l-3.2 3.2l-3.2-3.2zM1511.8 514.1l3.2 3.2l-3.2 3.2l-3.2-3.2zM1462.7 516.1l3.2 3.2l-3.2 3.2l-3.2-3.2zM1489.6 518.0l3.2 3.2l-3.2 3.2l-3.2-3.2zM1493.5 518.4l3.2 3.2l-3.2 3.2l-3.2-3.2zM1479.9 521.5l3.2 3.2l-3.2 3.2l-3.2-3.2zM1498.4 517.5l3.2 3.2l-3.2 3.2l-3.2-3.2zM1475.4 520.7l3.2 3.2l-3.2 3.2l-3.2-3.2zM1502.7 519.1l3.2 3.2l-3.2 3.2l-3.2-3.2zM1470.8 520.6l3.2 3.2l-3.2 3.2l-3.2-3.2zM1506.8 518.9l3.2 3.2l-3.2 3.2l-3.2-3.2zM1467.3 520.2l3.2 3.2l-3.2 3.2l-3.2-3.2zM1510.5 517.4l3.2 3.2l-3.2 3.2l-3.2-3.2zM1463.0 520.0l3.2 3.2l-3.2 3.2l-3.2-3.2zM1516.1 518.5l3.2 3.2l-3.2 3.2l-3.2-3.2zM1489.3 522.8l3.2 3.2l-3.2 3.2l-3.2-3.2zM1484.7 525.9l3.2 3.2l-3.2 3.2l-3.2-3.2zM1492.7 523.8l3.2 3.2l-3.2 3.2l-3.2-3.2zM1479.9 525.8l3.2 3.2l-3.2 3.2l-3.2-3.2zM1498.1 522.6l3.2 3.2l-3.2 3.2l-3.2-3.2zM1502.3 524.2l3.2 3.2l-3.2 3.2l-3.2-3.2zM1471.9 525.2l3.2 3.2l-3.2 3.2l-3.2-3.2zM1506.8 522.8l3.2 3.2l-3.2 3.2l-3.2-3.2zM1467.1 525.9l3.2 3.2l-3.2 3.2l-3.2-3.2zM1511.8 522.7l3.2 3.2l-3.2 3.2l-3.2-3.2zM1462.5 526.8l3.2 3.2l-3.2 3.2l-3.2-3.2zM1515.0 523.3l3.2 3.2l-3.2 3.2l-3.2-3.2zM1457.8 525.3l3.2 3.2l-3.2 3.2l-3.2-3.2zM1520.5 522.8l3.2 3.2l-3.2 3.2l-3.2-3.2zM1453.2 526.0l3.2 3.2l-3.2 3.2l-3.2-3.2zM1488.1 528.3l3.2 3.2l-3.2 3.2l-3.2-3.2zM1492.9 529.0l3.2 3.2l-3.2 3.2l-3.2-3.2zM1484.5 526.7l3.2 3.2l-3.2 3.2l-3.2-3.2zM1498.3 528.4l3.2 3.2l-3.2 3.2l-3.2-3.2zM1481.1 526.8l3.2 3.2l-3.2 3.2l-3.2-3.2zM1503.1 529.8l3.2 3.2l-3.2 3.2l-3.2-3.2zM1474.9 527.5l3.2 3.2l-3.2 3.2l-3.2-3.2zM1506.6 529.9l3.2 3.2l-3.2 3.2l-3.2-3.2zM1471.2 527.5l3.2 3.2l-3.2 3.2l-3.2-3.2zM1510.1 528.8l3.2 3.2l-3.2 3.2l-3.2-3.2zM1467.4 527.5l3.2 3.2l-3.2 3.2l-3.2-3.2zM1515.7 529.7l3.2 3.2l-3.2 3.2l-3.2-3.2zM1461.9 527.8l3.2 3.2l-3.2 3.2l-3.2-3.2zM1520.4 530.7l3.2 3.2l-3.2 3.2l-3.2-3.2zM1458.9 527.4l3.2 3.2l-3.2 3.2l-3.2-3.2zM1489.1 530.8l3.2 3.2l-3.2 3.2l-3.2-3.2zM1493.7 534.6l3.2 3.2l-3.2 3.2l-3.2-3.2zM1484.6 530.5l3.2 3.2l-3.2 3.2l-3.2-3.2zM1498.1 533.7l3.2 3.2l-3.2 3.2l-3.2-3.2zM1480.1 531.2l3.2 3.2l-3.2 3.2l-3.2-3.2zM1501.7 534.6l3.2 3.2l-3.2 3.2l-3.2-3.2zM1476.6 531.9l3.2 3.2l-3.2 3.2l-3.2-3.2zM1506.8 534.3l3.2 3.2l-3.2 3.2l-3.2-3.2zM1471.4 531.1l3.2 3.2l-3.2 3.2l-3.2-3.2zM1511.9 534.9l3.2 3.2l-3.2 3.2l-3.2-3.2zM1515.7 533.7l3.2 3.2l-3.2 3.2l-3.2-3.2zM1462.5 531.8l3.2 3.2l-3.2 3.2l-3.2-3.2zM1518.9 533.2l3.2 3.2l-3.2 3.2l-3.2-3.2zM1489.1 535.2l3.2 3.2l-3.2 3.2l-3.2-3.2zM1493.3 536.2l3.2 3.2l-3.2 3.2l-3.2-3.2zM1485.1 534.5l3.2 3.2l-3.2 3.2l-3.2-3.2zM1479.6 534.8l3.2 3.2l-3.2 3.2l-3.2-3.2zM1502.2 536.4l3.2 3.2l-3.2 3.2l-3.2-3.2zM1476.2 535.2l3.2 3.2l-3.2 3.2l-3.2-3.2zM1505.9 537.5l3.2 3.2l-3.2 3.2l-3.2-3.2zM1471.1 536.3l3.2 3.2l-3.2 3.2l-3.2-3.2zM1510.5 537.9l3.2 3.2l-3.2 3.2l-3.2-3.2zM1466.2 535.0l3.2 3.2l-3.2 3.2l-3.2-3.2zM1516.0 538.3l3.2 3.2l-3.2 3.2l-3.2-3.2zM1489.8 540.2l3.2 3.2l-3.2 3.2l-3.2-3.2zM1484.5 541.0l3.2 3.2l-3.2 3.2l-3.2-3.2zM1493.2 540.2l3.2 3.2l-3.2 3.2l-3.2-3.2zM1479.8 541.9l3.2 3.2l-3.2 3.2l-3.2-3.2zM1475.4 542.7l3.2 3.2l-3.2 3.2l-3.2-3.2zM1502.7 538.6l3.2 3.2l-3.2 3.2l-3.2-3.2zM1471.2 543.0l3.2 3.2l-3.2 3.2l-3.2-3.2zM1506.0 539.6l3.2 3.2l-3.2 3.2l-3.2-3.2zM1466.7 541.4l3.2 3.2l-3.2 3.2l-3.2-3.2zM1511.1 539.0l3.2 3.2l-3.2 3.2l-3.2-3.2zM1489.1 544.5l3.2 3.2l-3.2 3.2l-3.2-3.2zM1484.4 545.8l3.2 3.2l-3.2 3.2l-3.2-3.2zM1494.1 544.0l3.2 3.2l-3.2 3.2l-3.2-3.2zM1481.1 545.8l3.2 3.2l-3.2 3.2l-3.2-3.2zM1497.5 544.5l3.2 3.2l-3.2 3.2l-3.2-3.2zM1502.3 543.2l3.2 3.2l-3.2 3.2l-3.2-3.2zM1471.4 545.3l3.2 3.2l-3.2 3.2l-3.2-3.2zM1507.3 543.4l3.2 3.2l-3.2 3.2l-3.2-3.2zM1467.0 546.8l3.2 3.2l-3.2 3.2l-3.2-3.2zM1489.8 547.7l3.2 3.2l-3.2 3.2l-3.2-3.2zM1484.5 550.4l3.2 3.2l-3.2 3.2l-3.2-3.2zM1493.0 546.5l3.2 3.2l-3.2 3.2l-3.2-3.2zM1497.8 547.2l3.2 3.2l-3.2 3.2l-3.2-3.2zM1501.6 547.9l3.2 3.2l-3.2 3.2l-3.2-3.2zM1471.1 549.6l3.2 3.2l-3.2 3.2l-3.2-3.2zM1506.7 547.6l3.2 3.2l-3.2 3.2l-3.2-3.2zM1467.6 550.3l3.2 3.2l-3.2 3.2l-3.2-3.2zM1488.3 551.7l3.2 3.2l-3.2 3.2l-3.2-3.2zM1484.3 551.6l3.2 3.2l-3.2 3.2l-3.2-3.2zM1497.1 554.0l3.2 3.2l-3.2 3.2l-3.2-3.2zM1480.6 551.4l3.2 3.2l-3.2 3.2l-3.2-3.2zM1502.7 553.8l3.2 3.2l-3.2 3.2l-3.2-3.2zM1476.0 550.7l3.2 3.2l-3.2 3.2l-3.2-3.2zM1506.9 553.8l3.2 3.2l-3.2 3.2l-3.2-3.2zM1471.0 552.6l3.2 3.2l-3.2 3.2l-3.2-3.2zM1510.8 554.0l3.2 3.2l-3.2 3.2l-3.2-3.2zM1489.6 556.0l3.2 3.2l-3.2 3.2l-3.2-3.2zM1493.9 558.9l3.2 3.2l-3.2 3.2l-3.2-3.2zM1498.5 559.0l3.2 3.2l-3.2 3.2l-3.2-3.2zM1479.8 555.9l3.2 3.2l-3.2 3.2l-3.2-3.2zM1501.6 558.2l3.2 3.2l-3.2 3.2l-3.2-3.2zM1475.1 555.4l3.2 3.2l-3.2 3.2l-3.2-3.2zM1507.0 558.3l3.2 3.2l-3.2 3.2l-3.2-3.2zM1471.6 555.9l3.2 3.2l-3.2 3.2l-3.2-3.2zM1489.6 559.7l3.2 3.2l-3.2 3.2l-3.2-3.2zM1484.9 562.2l3.2 3.2l-3.2 3.2l-3.2-3.2zM1492.8 559.9l3.2 3.2l-3.2 3.2l-3.2-3.2zM1480.7 562.9l3.2 3.2l-3.2 3.2l-3.2-3.2zM1497.0 560.3l3.2 3.2l-3.2 3.2l-3.2-3.2zM1476.4 562.6l3.2 3.2l-3.2 3.2l-3.2-3.2zM1501.4 560.4l3.2 3.2l-3.2 3.2l-3.2-3.2zM1471.0 563.7l3.2 3.2l-3.2 3.2l-3.2-3.2zM1506.1 561.0l3.2 3.2l-3.2 3.2l-3.2-3.2zM1488.6 564.5l3.2 3.2l-3.2 3.2l-3.2-3.2zM1484.6 565.6l3.2 3.2l-3.2 3.2l-3.2-3.2zM1492.8 564.8l3.2 3.2l-3.2 3.2l-3.2-3.2zM1479.4 567.2l3.2 3.2l-3.2 3.2l-3.2-3.2zM1497.5 563.8l3.2 3.2l-3.2 3.2l-3.2-3.2zM1475.9 566.5l3.2 3.2l-3.2 3.2l-3.2-3.2zM1502.2 564.5l3.2 3.2l-3.2 3.2l-3.2-3.2zM1472.0 566.7l3.2 3.2l-3.2 3.2l-3.2-3.2zM1506.8 563.9l3.2 3.2l-3.2 3.2l-3.2-3.2zM1489.4 568.8l3.2 3.2l-3.2 3.2l-3.2-3.2zM1484.7 570.7l3.2 3.2l-3.2 3.2l-3.2-3.2zM1493.6 568.7l3.2 3.2l-3.2 3.2l-3.2-3.2zM1479.9 570.8l3.2 3.2l-3.2 3.2l-3.2-3.2zM1497.1 569.0l3.2 3.2l-3.2 3.2l-3.2-3.2zM1475.1 571.4l3.2 3.2l-3.2 3.2l-3.2-3.2zM1502.4 568.6l3.2 3.2l-3.2 3.2l-3.2-3.2zM1470.6 571.2l3.2 3.2l-3.2 3.2l-3.2-3.2zM1506.0 569.3l3.2 3.2l-3.2 3.2l-3.2-3.2zM1488.6 571.9l3.2 3.2l-3.2 3.2l-3.2-3.2zM1493.1 574.9l3.2 3.2l-3.2 3.2l-3.2-3.2zM1484.3 573.4l3.2 3.2l-3.2 3.2l-3.2-3.2zM1497.4 575.1l3.2 3.2l-3.2 3.2l-3.2-3.2zM1502.4 574.1l3.2 3.2l-3.2 3.2l-3.2-3.2zM1475.7 572.8l3.2 3.2l-3.2 3.2l-3.2-3.2zM1489.6 577.2l3.2 3.2l-3.2 3.2l-3.2-3.2zM1493.7 579.7l3.2 3.2l-3.2 3.2l-3.2-3.2zM1485.3 577.0l3.2 3.2l-3.2 3.2l-3.2-3.2zM1498.7 579.5l3.2 3.2l-3.2 3.2l-3.2-3.2zM1480.9 577.1l3.2 3.2l-3.2 3.2l-3.2-3.2zM1502.6 578.8l3.2 3.2l-3.2 3.2l-3.2-3.2zM1476.2 577.0l3.2 3.2l-3.2 3.2l-3.2-3.2zM1489.1 581.0l3.2 3.2l-3.2 3.2l-3.2-3.2zM1492.8 583.7l3.2 3.2l-3.2 3.2l-3.2-3.2zM1485.1 581.7l3.2 3.2l-3.2 3.2l-3.2-3.2zM1497.9 584.1l3.2 3.2l-3.2 3.2l-3.2-3.2zM1479.5 581.8l3.2 3.2l-3.2 3.2l-3.2-3.2zM1502.9 583.6l3.2 3.2l-3.2 3.2l-3.2-3.2zM1489.5 585.9l3.2 3.2l-3.2 3.2l-3.2-3.2zM1493.1 588.3l3.2 3.2l-3.2 3.2l-3.2-3.2zM1485.0 586.1l3.2 3.2l-3.2 3.2l-3.2-3.2zM1498.7 587.9l3.2 3.2l-3.2 3.2l-3.2-3.2zM1488.4 588.5l3.2 3.2l-3.2 3.2l-3.2-3.2zM1493.6 592.3l3.2 3.2l-3.2 3.2l-3.2-3.2zM1484.8 589.4l3.2 3.2l-3.2 3.2l-3.2-3.2zM1498.4 592.4l3.2 3.2l-3.2 3.2l-3.2-3.2zM1479.6 590.3l3.2 3.2l-3.2 3.2l-3.2-3.2zM1489.6 593.2l3.2 3.2l-3.2 3.2l-3.2-3.2zM1484.3 596.6l3.2 3.2l-3.2 3.2l-3.2-3.2zM1492.5 594.5l3.2 3.2l-3.2 3.2l-3.2-3.2zM1479.8 596.2l3.2 3.2l-3.2 3.2l-3.2-3.2zM1498.5 592.6l3.2 3.2l-3.2 3.2l-3.2-3.2zM1488.5 597.8l3.2 3.2l-3.2 3.2l-3.2-3.2zM1493.8 598.7l3.2 3.2l-3.2 3.2l-3.2-3.2zM1483.8 597.8l3.2 3.2l-3.2 3.2l-3.2-3.2zM1498.7 599.7l3.2 3.2l-3.2 3.2l-3.2-3.2z" fill="#92278f" stroke="#fff" stroke-width="0.25" stroke-opacity="0.5"/>
<line x1="1132.80" y1="544.50" x2="1219.70" y2="544.50" stroke="#000" stroke-width="4.8" stroke-linecap="butt"/>
<line x1="1237.20" y1="533.80" x2="1323.80" y2="533.80" stroke="#000" stroke-width="4.8" stroke-linecap="butt"/>
<line x1="1341.20" y1="499.40" x2="1428.10" y2="499.40" stroke="#000" stroke-width="4.8" stroke-linecap="butt"/>
<line x1="1445.90" y1="520.50" x2="1532.50" y2="520.50" stroke="#000" stroke-width="4.8" stroke-linecap="butt"/>
<text x="-1.27" y="880.90" font-size="42" font-weight="bold" fill="#000" textLength="23.27" lengthAdjust="spacingAndGlyphs">c</text>
<text x="138.41" y="885.50" font-size="29.2" fill="#000" textLength="438.39" lengthAdjust="spacingAndGlyphs">Olaparib sensitivity (HeLa BRCA2</text>
<text x="577.37" y="872.60" font-size="19.5" fill="#000" textLength="28.57" lengthAdjust="spacingAndGlyphs">KO</text>
<text x="613.96" y="885.50" font-size="29.2" fill="#000" textLength="67.99" lengthAdjust="spacingAndGlyphs">cells)</text>
<line x1="208.20" y1="946.00" x2="208.20" y2="1344.40" stroke="#000" stroke-width="2.6" stroke-linecap="butt"/>
<line x1="198.70" y1="1343.00" x2="208.20" y2="1343.00" stroke="#000" stroke-width="2.6" stroke-linecap="butt"/>
<line x1="202.40" y1="1310.05" x2="208.20" y2="1310.05" stroke="#000" stroke-width="2.4" stroke-linecap="butt"/>
<line x1="202.40" y1="1277.10" x2="208.20" y2="1277.10" stroke="#000" stroke-width="2.4" stroke-linecap="butt"/>
<line x1="202.40" y1="1244.15" x2="208.20" y2="1244.15" stroke="#000" stroke-width="2.4" stroke-linecap="butt"/>
<line x1="202.40" y1="1211.20" x2="208.20" y2="1211.20" stroke="#000" stroke-width="2.4" stroke-linecap="butt"/>
<line x1="198.70" y1="1178.25" x2="208.20" y2="1178.25" stroke="#000" stroke-width="2.6" stroke-linecap="butt"/>
<line x1="202.40" y1="1145.30" x2="208.20" y2="1145.30" stroke="#000" stroke-width="2.4" stroke-linecap="butt"/>
<line x1="202.40" y1="1112.35" x2="208.20" y2="1112.35" stroke="#000" stroke-width="2.4" stroke-linecap="butt"/>
<line x1="202.40" y1="1079.40" x2="208.20" y2="1079.40" stroke="#000" stroke-width="2.4" stroke-linecap="butt"/>
<line x1="202.40" y1="1046.45" x2="208.20" y2="1046.45" stroke="#000" stroke-width="2.4" stroke-linecap="butt"/>
<line x1="198.70" y1="1013.50" x2="208.20" y2="1013.50" stroke="#000" stroke-width="2.6" stroke-linecap="butt"/>
<line x1="202.40" y1="980.55" x2="208.20" y2="980.55" stroke="#000" stroke-width="2.4" stroke-linecap="butt"/>
<line x1="202.40" y1="947.60" x2="208.20" y2="947.60" stroke="#000" stroke-width="2.4" stroke-linecap="butt"/>
<text x="166.48" y="1023.80" font-size="29.2" fill="#000">1</text>
<text x="145.88" y="1187.80" font-size="29.2" fill="#000">0.5</text>
<text x="170.69" y="1352.30" font-size="29.2" fill="#000">0</text>
<text x="121.10" y="1247.46" font-size="29.2" textLength="202.72" lengthAdjust="spacingAndGlyphs" transform="rotate(-90 121.10 1247.46)">Cellular viability</text>
<line x1="199.10" y1="1343.00" x2="614.00" y2="1343.00" stroke="#000" stroke-width="2.7" stroke-linecap="butt"/>
<line x1="208.00" y1="1342.00" x2="208.00" y2="1352.00" stroke="#000" stroke-width="2.6" stroke-linecap="butt"/>
<line x1="234.97" y1="1342.00" x2="234.97" y2="1348.60" stroke="#000" stroke-width="2.4" stroke-linecap="butt"/>
<line x1="261.94" y1="1342.00" x2="261.94" y2="1348.60" stroke="#000" stroke-width="2.4" stroke-linecap="butt"/>
<line x1="288.91" y1="1342.00" x2="288.91" y2="1348.60" stroke="#000" stroke-width="2.4" stroke-linecap="butt"/>
<line x1="315.88" y1="1342.00" x2="315.88" y2="1348.60" stroke="#000" stroke-width="2.4" stroke-linecap="butt"/>
<line x1="342.85" y1="1342.00" x2="342.85" y2="1352.00" stroke="#000" stroke-width="2.6" stroke-linecap="butt"/>
<line x1="369.82" y1="1342.00" x2="369.82" y2="1348.60" stroke="#000" stroke-width="2.4" stroke-linecap="butt"/>
<line x1="396.79" y1="1342.00" x2="396.79" y2="1348.60" stroke="#000" stroke-width="2.4" stroke-linecap="butt"/>
<line x1="423.76" y1="1342.00" x2="423.76" y2="1348.60" stroke="#000" stroke-width="2.4" stroke-linecap="butt"/>
<line x1="450.73" y1="1342.00" x2="450.73" y2="1348.60" stroke="#000" stroke-width="2.4" stroke-linecap="butt"/>
<line x1="477.70" y1="1342.00" x2="477.70" y2="1352.00" stroke="#000" stroke-width="2.6" stroke-linecap="butt"/>
<line x1="504.67" y1="1342.00" x2="504.67" y2="1348.60" stroke="#000" stroke-width="2.4" stroke-linecap="butt"/>
<line x1="531.64" y1="1342.00" x2="531.64" y2="1348.60" stroke="#000" stroke-width="2.4" stroke-linecap="butt"/>
<line x1="558.61" y1="1342.00" x2="558.61" y2="1348.60" stroke="#000" stroke-width="2.4" stroke-linecap="butt"/>
<line x1="585.58" y1="1342.00" x2="585.58" y2="1348.60" stroke="#000" stroke-width="2.4" stroke-linecap="butt"/>
<line x1="612.55" y1="1342.00" x2="612.55" y2="1352.00" stroke="#000" stroke-width="2.6" stroke-linecap="butt"/>
<text x="200.33" y="1385.70" font-size="29.2" fill="#000">0</text>
<text x="334.83" y="1385.70" font-size="29.2" fill="#000">5</text>
<text x="462.41" y="1385.70" font-size="29.2" fill="#000">10</text>
<text x="596.91" y="1385.70" font-size="29.2" fill="#000">15</text>
<text x="333.11" y="1428.20" font-size="29.2" fill="#000" textLength="154.37" lengthAdjust="spacingAndGlyphs">μM olaparib</text>
<line x1="427.60" y1="951.70" x2="448.90" y2="951.70" stroke="#ff9000" stroke-width="1.8" stroke-linecap="butt"/>
<circle cx="438.40" cy="951.70" r="8.30" fill="#ff9000"/>
<text x="460.47" y="958.90" font-size="22.8" fill="#000">siControl</text>
<line x1="427.60" y1="976.50" x2="448.90" y2="976.50" stroke="#92278f" stroke-width="1.8" stroke-linecap="butt"/>
<rect x="430.10" y="968.20" width="16.60" height="16.60" fill="#92278f"/>
<text x="460.47" y="983.10" font-size="22.8" fill="#000" textLength="187.18" lengthAdjust="spacingAndGlyphs">siControl + siKAT5</text>
<line x1="427.60" y1="1003.30" x2="448.90" y2="1003.30" stroke="#0433ff" stroke-width="1.8" stroke-linecap="butt"/>
<path d="M438.40 995.66 L446.70 1010.94 L430.10 1010.94 Z" fill="#0433ff"/>
<text x="460.47" y="1009.60" font-size="22.8" fill="#000">si53BP1 + siKAT5</text>
<line x1="427.60" y1="1029.80" x2="448.90" y2="1029.80" stroke="#00f700" stroke-width="1.8" stroke-linecap="butt"/>
<path d="M430.10 1022.16 L446.70 1022.16 L438.40 1037.44 Z" fill="#00f700"/>
<text x="460.47" y="1036.10" font-size="22.8" fill="#000" textLength="201.88" lengthAdjust="spacingAndGlyphs">si53BP1 + siControl</text>
<path d="M208.20 1013.50 L248.90 1103.30 L289.30 1171.80 L370.10 1233.80 L531.70 1252.00" fill="none" stroke="#00f700" stroke-width="2.0" stroke-linejoin="round"/>
<path d="M248.90 1063.20 V1143.70 M239.65 1063.20 H258.15 M239.65 1143.70 H258.15" fill="none" stroke="#00f700" stroke-width="2.0"/>
<path d="M289.30 1128.10 V1215.40 M280.05 1128.10 H298.55 M280.05 1215.40 H298.55" fill="none" stroke="#00f700" stroke-width="2.0"/>
<path d="M370.10 1194.50 V1273.20 M360.85 1194.50 H379.35 M360.85 1273.20 H379.35" fill="none" stroke="#00f700" stroke-width="2.0"/>
<path d="M531.70 1215.60 V1288.40 M522.45 1215.60 H540.95 M522.45 1288.40 H540.95" fill="none" stroke="#00f700" stroke-width="2.0"/>
<path d="M200.00 1005.96 L216.40 1005.96 L208.20 1021.04 Z" fill="#00f700"/>
<path d="M240.70 1095.76 L257.10 1095.76 L248.90 1110.84 Z" fill="#00f700"/>
<path d="M281.10 1164.26 L297.50 1164.26 L289.30 1179.34 Z" fill="#00f700"/>
<path d="M361.90 1226.26 L378.30 1226.26 L370.10 1241.34 Z" fill="#00f700"/>
<path d="M523.50 1244.46 L539.90 1244.46 L531.70 1259.54 Z" fill="#00f700"/>
<path d="M208.20 1013.50 L248.90 1078.20 L289.30 1115.90 L370.10 1174.20 L531.70 1219.00" fill="none" stroke="#0433ff" stroke-width="2.0" stroke-linejoin="round"/>
<path d="M248.90 1049.60 V1106.90 M239.65 1049.60 H258.15 M239.65 1106.90 H258.15" fill="none" stroke="#0433ff" stroke-width="2.0"/>
<path d="M289.30 1081.20 V1150.20 M280.05 1081.20 H298.55 M280.05 1150.20 H298.55" fill="none" stroke="#0433ff" stroke-width="2.0"/>
<path d="M370.10 1138.70 V1209.60 M360.85 1138.70 H379.35 M360.85 1209.60 H379.35" fill="none" stroke="#0433ff" stroke-width="2.0"/>
<path d="M531.70 1183.10 V1254.30 M522.45 1183.10 H540.95 M522.45 1254.30 H540.95" fill="none" stroke="#0433ff" stroke-width="2.0"/>
<path d="M208.20 1005.96 L216.40 1021.04 L200.00 1021.04 Z" fill="#0433ff"/>
<path d="M248.90 1070.66 L257.10 1085.74 L240.70 1085.74 Z" fill="#0433ff"/>
<path d="M289.30 1108.36 L297.50 1123.44 L281.10 1123.44 Z" fill="#0433ff"/>
<path d="M370.10 1166.66 L378.30 1181.74 L361.90 1181.74 Z" fill="#0433ff"/>
<path d="M531.70 1211.46 L539.90 1226.54 L523.50 1226.54 Z" fill="#0433ff"/>
<path d="M208.20 1013.50 L248.90 1043.40 L289.30 1052.60 L370.10 1088.70 L531.70 1113.20" fill="none" stroke="#92278f" stroke-width="2.0" stroke-linejoin="round"/>
<path d="M248.90 1027.30 V1059.40 M239.65 1027.30 H258.15 M239.65 1059.40 H258.15" fill="none" stroke="#92278f" stroke-width="2.0"/>
<path d="M289.30 1037.00 V1068.20 M280.05 1037.00 H298.55 M280.05 1068.20 H298.55" fill="none" stroke="#92278f" stroke-width="2.0"/>
<path d="M370.10 1059.50 V1118.00 M360.85 1059.50 H379.35 M360.85 1118.00 H379.35" fill="none" stroke="#92278f" stroke-width="2.0"/>
<path d="M531.70 1087.00 V1139.20 M522.45 1087.00 H540.95 M522.45 1139.20 H540.95" fill="none" stroke="#92278f" stroke-width="2.0"/>
<rect x="200.00" y="1005.30" width="16.40" height="16.40" fill="#92278f"/>
<rect x="240.70" y="1035.20" width="16.40" height="16.40" fill="#92278f"/>
<rect x="281.10" y="1044.40" width="16.40" height="16.40" fill="#92278f"/>
<rect x="361.90" y="1080.50" width="16.40" height="16.40" fill="#92278f"/>
<rect x="523.50" y="1105.00" width="16.40" height="16.40" fill="#92278f"/>
<path d="M208.20 1013.50 L248.90 1136.50 L289.30 1194.50 L370.10 1231.60 L531.70 1218.70" fill="none" stroke="#ff9000" stroke-width="2.0" stroke-linejoin="round"/>
<path d="M248.90 1105.60 V1167.40 M239.65 1105.60 H258.15 M239.65 1167.40 H258.15" fill="none" stroke="#ff9000" stroke-width="2.0"/>
<path d="M289.30 1163.70 V1225.50 M280.05 1163.70 H298.55 M280.05 1225.50 H298.55" fill="none" stroke="#ff9000" stroke-width="2.0"/>
<path d="M370.10 1206.10 V1257.00 M360.85 1206.10 H379.35 M360.85 1257.00 H379.35" fill="none" stroke="#ff9000" stroke-width="2.0"/>
<path d="M531.70 1193.50 V1243.90 M522.45 1193.50 H540.95 M522.45 1243.90 H540.95" fill="none" stroke="#ff9000" stroke-width="2.0"/>
<circle cx="208.20" cy="1013.50" r="8.00" fill="#ff9000"/>
<circle cx="248.90" cy="1136.50" r="8.00" fill="#ff9000"/>
<circle cx="289.30" cy="1194.50" r="8.00" fill="#ff9000"/>
<circle cx="370.10" cy="1231.60" r="8.00" fill="#ff9000"/>
<circle cx="531.70" cy="1218.70" r="8.00" fill="#ff9000"/>
<text x="825.18" y="880.80" font-size="42" font-weight="bold" fill="#000" textLength="26.25" lengthAdjust="spacingAndGlyphs">d</text>
<text x="868.51" y="885.40" font-size="29.2" fill="#000" textLength="438.49" lengthAdjust="spacingAndGlyphs">Olaparib sensitivity (HeLa BRCA2</text>
<text x="1306.91" y="872.60" font-size="19.5" fill="#000" textLength="29.56" lengthAdjust="spacingAndGlyphs">KO</text>
<text x="1343.54" y="885.40" font-size="29.2" fill="#000" textLength="69.04" lengthAdjust="spacingAndGlyphs">cells)</text>
<line x1="937.90" y1="905.60" x2="937.90" y2="1369.40" stroke="#000" stroke-width="2.6" stroke-linecap="butt"/>
<line x1="928.50" y1="1368.00" x2="937.90" y2="1368.00" stroke="#000" stroke-width="2.6" stroke-linecap="butt"/>
<line x1="932.40" y1="1329.57" x2="937.90" y2="1329.57" stroke="#000" stroke-width="2.4" stroke-linecap="butt"/>
<line x1="932.40" y1="1291.14" x2="937.90" y2="1291.14" stroke="#000" stroke-width="2.4" stroke-linecap="butt"/>
<line x1="932.40" y1="1252.71" x2="937.90" y2="1252.71" stroke="#000" stroke-width="2.4" stroke-linecap="butt"/>
<line x1="932.40" y1="1214.28" x2="937.90" y2="1214.28" stroke="#000" stroke-width="2.4" stroke-linecap="butt"/>
<line x1="928.50" y1="1175.85" x2="937.90" y2="1175.85" stroke="#000" stroke-width="2.6" stroke-linecap="butt"/>
<line x1="932.40" y1="1137.42" x2="937.90" y2="1137.42" stroke="#000" stroke-width="2.4" stroke-linecap="butt"/>
<line x1="932.40" y1="1098.99" x2="937.90" y2="1098.99" stroke="#000" stroke-width="2.4" stroke-linecap="butt"/>
<line x1="932.40" y1="1060.56" x2="937.90" y2="1060.56" stroke="#000" stroke-width="2.4" stroke-linecap="butt"/>
<line x1="932.40" y1="1022.13" x2="937.90" y2="1022.13" stroke="#000" stroke-width="2.4" stroke-linecap="butt"/>
<line x1="928.50" y1="983.70" x2="937.90" y2="983.70" stroke="#000" stroke-width="2.6" stroke-linecap="butt"/>
<line x1="932.40" y1="945.27" x2="937.90" y2="945.27" stroke="#000" stroke-width="2.4" stroke-linecap="butt"/>
<line x1="932.40" y1="906.84" x2="937.90" y2="906.84" stroke="#000" stroke-width="2.4" stroke-linecap="butt"/>
<text x="896.08" y="993.40" font-size="29.2" fill="#000">1</text>
<text x="875.58" y="1186.00" font-size="29.2" fill="#000">0.5</text>
<text x="900.49" y="1377.50" font-size="29.2" fill="#000">0</text>
<text x="850.90" y="1240.07" font-size="29.2" textLength="203.73" lengthAdjust="spacingAndGlyphs" transform="rotate(-90 850.90 1240.07)">Cellular viability</text>
<line x1="928.20" y1="1368.00" x2="1336.00" y2="1368.00" stroke="#000" stroke-width="2.7" stroke-linecap="butt"/>
<line x1="937.90" y1="1367.00" x2="937.90" y2="1377.50" stroke="#000" stroke-width="2.6" stroke-linecap="butt"/>
<line x1="1037.10" y1="1367.00" x2="1037.10" y2="1377.50" stroke="#000" stroke-width="2.6" stroke-linecap="butt"/>
<line x1="1136.30" y1="1367.00" x2="1136.30" y2="1377.50" stroke="#000" stroke-width="2.6" stroke-linecap="butt"/>
<line x1="1235.50" y1="1367.00" x2="1235.50" y2="1377.50" stroke="#000" stroke-width="2.6" stroke-linecap="butt"/>
<line x1="1334.70" y1="1367.00" x2="1334.70" y2="1377.50" stroke="#000" stroke-width="2.6" stroke-linecap="butt"/>
<text x="929.53" y="1411.80" font-size="29.2" fill="#000">0</text>
<text x="1028.44" y="1411.80" font-size="29.2" fill="#000">2</text>
<text x="1128.34" y="1411.80" font-size="29.2" fill="#000">4</text>
<text x="1227.54" y="1411.80" font-size="29.2" fill="#000">6</text>
<text x="1326.76" y="1411.80" font-size="29.2" fill="#000">8</text>
<text x="1059.42" y="1454.20" font-size="29.2" fill="#000" textLength="153.96" lengthAdjust="spacingAndGlyphs">μM olaparib</text>
<line x1="1294.20" y1="1068.60" x2="1319.40" y2="1068.60" stroke="#ff9000" stroke-width="1.8" stroke-linecap="butt"/>
<circle cx="1306.40" cy="1068.60" r="10.10" fill="#ff9000"/>
<text x="1331.17" y="1075.70" font-size="22.8" fill="#000">siControl</text>
<line x1="1294.20" y1="1098.00" x2="1319.40" y2="1098.00" stroke="#92278f" stroke-width="1.8" stroke-linecap="butt"/>
<rect x="1296.30" y="1087.90" width="20.20" height="20.20" fill="#92278f"/>
<text x="1331.17" y="1105.00" font-size="22.8" fill="#000" textLength="187.79" lengthAdjust="spacingAndGlyphs">siControl + siKAT5</text>
<line x1="1294.20" y1="1129.50" x2="1319.40" y2="1129.50" stroke="#0433ff" stroke-width="1.8" stroke-linecap="butt"/>
<path d="M1306.40 1120.21 L1316.50 1138.79 L1296.30 1138.79 Z" fill="#0433ff"/>
<text x="1331.17" y="1136.80" font-size="22.8" fill="#000">siREV7 + siKAT5</text>
<line x1="1294.20" y1="1160.60" x2="1319.40" y2="1160.60" stroke="#00f700" stroke-width="1.8" stroke-linecap="butt"/>
<path d="M1296.30 1151.31 L1316.50 1151.31 L1306.40 1169.89 Z" fill="#00f700"/>
<text x="1331.17" y="1168.20" font-size="22.8" fill="#000" textLength="193.49" lengthAdjust="spacingAndGlyphs">siREV7 + siControl</text>
<path d="M937.90 984.40 L1012.40 1151.30 L1086.80 1232.00 L1235.70 1286.20" fill="none" stroke="#00f700" stroke-width="2.0" stroke-linejoin="round"/>
<path d="M1012.40 1130.40 V1172.00 M1004.15 1130.40 H1020.65 M1004.15 1172.00 H1020.65" fill="none" stroke="#00f700" stroke-width="2.0"/>
<path d="M1086.80 1198.80 V1264.90 M1078.55 1198.80 H1095.05 M1078.55 1264.90 H1095.05" fill="none" stroke="#00f700" stroke-width="2.0"/>
<path d="M1235.70 1276.00 V1296.50 M1227.45 1276.00 H1243.95 M1227.45 1296.50 H1243.95" fill="none" stroke="#00f700" stroke-width="2.0"/>
<path d="M930.60 977.68 L945.20 977.68 L937.90 991.12 Z" fill="#00f700"/>
<path d="M1005.10 1144.58 L1019.70 1144.58 L1012.40 1158.02 Z" fill="#00f700"/>
<path d="M1079.50 1225.28 L1094.10 1225.28 L1086.80 1238.72 Z" fill="#00f700"/>
<path d="M1228.40 1279.48 L1243.00 1279.48 L1235.70 1292.92 Z" fill="#00f700"/>
<path d="M937.90 984.40 L1012.40 1100.50 L1086.80 1148.60 L1235.70 1220.80" fill="none" stroke="#0433ff" stroke-width="2.0" stroke-linejoin="round"/>
<path d="M1012.40 1088.80 V1110.30 M1004.15 1088.80 H1020.65 M1004.15 1110.30 H1020.65" fill="none" stroke="#0433ff" stroke-width="2.0"/>
<path d="M1086.80 1084.20 V1211.50 M1078.55 1084.20 H1095.05 M1078.55 1211.50 H1095.05" fill="none" stroke="#0433ff" stroke-width="2.0"/>
<path d="M1235.70 1187.20 V1254.40 M1227.45 1187.20 H1243.95 M1227.45 1254.40 H1243.95" fill="none" stroke="#0433ff" stroke-width="2.0"/>
<path d="M937.90 977.68 L945.20 991.12 L930.60 991.12 Z" fill="#0433ff"/>
<path d="M1012.40 1093.78 L1019.70 1107.22 L1005.10 1107.22 Z" fill="#0433ff"/>
<path d="M1086.80 1141.88 L1094.10 1155.32 L1079.50 1155.32 Z" fill="#0433ff"/>
<path d="M1235.70 1214.08 L1243.00 1227.52 L1228.40 1227.52 Z" fill="#0433ff"/>
<path d="M937.90 984.40 L1012.40 1020.60 L1086.80 1015.10 L1235.70 1059.00" fill="none" stroke="#92278f" stroke-width="2.0" stroke-linejoin="round"/>
<path d="M1012.40 1003.50 V1037.80 M1004.15 1003.50 H1020.65 M1004.15 1037.80 H1020.65" fill="none" stroke="#92278f" stroke-width="2.0"/>
<path d="M1086.80 998.30 V1031.60 M1078.55 998.30 H1095.05 M1078.55 1031.60 H1095.05" fill="none" stroke="#92278f" stroke-width="2.0"/>
<path d="M1235.70 1050.30 V1067.60 M1227.45 1050.30 H1243.95 M1227.45 1067.60 H1243.95" fill="none" stroke="#92278f" stroke-width="2.0"/>
<rect x="930.60" y="977.10" width="14.60" height="14.60" fill="#92278f"/>
<rect x="1005.10" y="1013.30" width="14.60" height="14.60" fill="#92278f"/>
<rect x="1079.50" y="1007.80" width="14.60" height="14.60" fill="#92278f"/>
<rect x="1228.40" y="1051.70" width="14.60" height="14.60" fill="#92278f"/>
<path d="M937.90 984.40 L1012.40 1117.30 L1086.80 1181.80 L1235.70 1217.00" fill="none" stroke="#ff9000" stroke-width="2.0" stroke-linejoin="round"/>
<path d="M1012.40 1082.30 V1152.20 M1004.15 1082.30 H1020.65 M1004.15 1152.20 H1020.65" fill="none" stroke="#ff9000" stroke-width="2.0"/>
<path d="M1086.80 1136.90 V1226.50 M1078.55 1136.90 H1095.05 M1078.55 1226.50 H1095.05" fill="none" stroke="#ff9000" stroke-width="2.0"/>
<path d="M1235.70 1164.70 V1269.50 M1227.45 1164.70 H1243.95 M1227.45 1269.50 H1243.95" fill="none" stroke="#ff9000" stroke-width="2.0"/>
<circle cx="937.90" cy="984.40" r="7.50" fill="#ff9000"/>
<circle cx="1012.40" cy="1117.30" r="7.50" fill="#ff9000"/>
<circle cx="1086.80" cy="1181.80" r="7.50" fill="#ff9000"/>
<circle cx="1235.70" cy="1217.00" r="7.50" fill="#ff9000"/>
</svg>
</body></html>
